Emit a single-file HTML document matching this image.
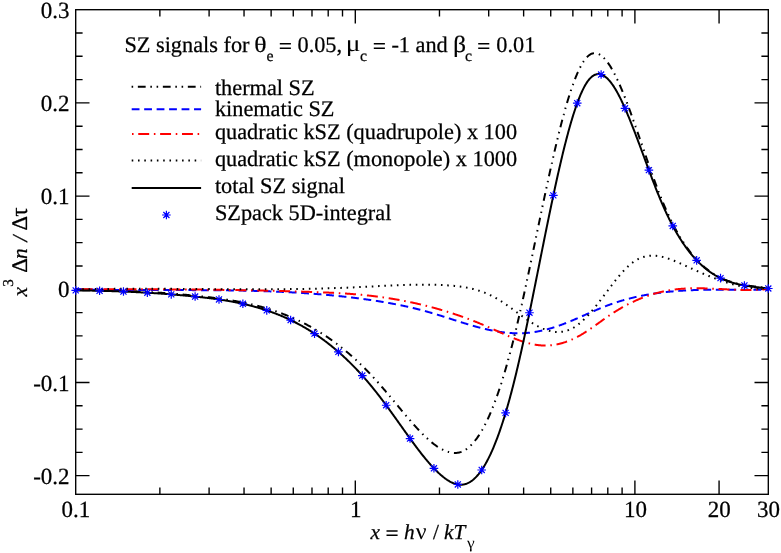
<!DOCTYPE html>
<html><head><meta charset="utf-8"><title>SZ signals</title>
<style>html,body{margin:0;padding:0;background:#fff;}svg{display:block;will-change:transform;}text{font-family:"Liberation Serif",serif;text-rendering:geometricPrecision;}</style></head>
<body>
<svg width="781" height="553" viewBox="0 0 781 553">
<rect width="781" height="553" fill="#fff"/>
<path d="M159.87 494.30 v-6.90 M159.87 9.70 v6.90 M209.10 494.30 v-6.90 M209.10 9.70 v6.90 M244.04 494.30 v-6.90 M244.04 9.70 v6.90 M271.13 494.30 v-6.90 M271.13 9.70 v6.90 M293.27 494.30 v-6.90 M293.27 9.70 v6.90 M311.99 494.30 v-6.90 M311.99 9.70 v6.90 M328.20 494.30 v-6.90 M328.20 9.70 v6.90 M342.51 494.30 v-6.90 M342.51 9.70 v6.90 M355.30 494.30 v-13.80 M355.30 9.70 v13.80 M439.47 494.30 v-6.90 M439.47 9.70 v6.90 M488.70 494.30 v-6.90 M488.70 9.70 v6.90 M523.63 494.30 v-6.90 M523.63 9.70 v6.90 M550.73 494.30 v-6.90 M550.73 9.70 v6.90 M572.87 494.30 v-6.90 M572.87 9.70 v6.90 M591.59 494.30 v-6.90 M591.59 9.70 v6.90 M607.80 494.30 v-6.90 M607.80 9.70 v6.90 M622.10 494.30 v-6.90 M622.10 9.70 v6.90 M634.90 494.30 v-13.80 M634.90 9.70 v13.80 M719.07 494.30 v-13.80 M719.07 9.70 v13.80 M75.70 475.66 h13.80 M768.30 475.66 h-13.80 M75.70 452.36 h6.90 M768.30 452.36 h-6.90 M75.70 429.07 h6.90 M768.30 429.07 h-6.90 M75.70 405.77 h6.90 M768.30 405.77 h-6.90 M75.70 382.47 h13.80 M768.30 382.47 h-13.80 M75.70 359.17 h6.90 M768.30 359.17 h-6.90 M75.70 335.87 h6.90 M768.30 335.87 h-6.90 M75.70 312.57 h6.90 M768.30 312.57 h-6.90 M75.70 289.28 h13.80 M768.30 289.28 h-13.80 M75.70 265.98 h6.90 M768.30 265.98 h-6.90 M75.70 242.68 h6.90 M768.30 242.68 h-6.90 M75.70 219.38 h6.90 M768.30 219.38 h-6.90 M75.70 196.08 h13.80 M768.30 196.08 h-13.80 M75.70 172.79 h6.90 M768.30 172.79 h-6.90 M75.70 149.49 h6.90 M768.30 149.49 h-6.90 M75.70 126.19 h6.90 M768.30 126.19 h-6.90 M75.70 102.89 h13.80 M768.30 102.89 h-13.80 M75.70 79.59 h6.90 M768.30 79.59 h-6.90 M75.70 56.30 h6.90 M768.30 56.30 h-6.90 M75.70 33.00 h6.90 M768.30 33.00 h-6.90" stroke="#000" stroke-width="1.37" fill="none"/>
<rect x="75.70" y="9.70" width="692.60" height="484.60" fill="none" stroke="#000" stroke-width="1.37"/>
<clipPath id="c"><rect x="75.70" y="9.70" width="692.60" height="484.60"/></clipPath>
<g clip-path="url(#c)" fill="none" stroke-width="2.00">
<path d="M76.00 290.43 L76.10 290.43 L76.20 290.43 L76.30 290.42 L76.40 290.42 L76.50 290.42 L76.60 290.42 L76.70 290.42 L76.80 290.42 L76.90 290.41 L77.00 290.41 L77.10 290.41 L77.20 290.41 L77.30 290.41 L77.40 290.41 L77.50 290.40 M82.30 290.34 L82.90 290.33 L83.50 290.33 L84.10 290.32 L84.70 290.32 L85.30 290.31 L85.90 290.31 L86.50 290.31 L87.10 290.30 L87.70 290.30 L88.30 290.30 L88.90 290.30 L89.50 290.29 L90.00 290.29 M94.80 290.30 L94.90 290.30 L95.00 290.30 L95.10 290.30 L95.20 290.30 L95.30 290.30 L95.40 290.30 L95.50 290.30 L95.60 290.30 L95.70 290.30 L95.80 290.30 L95.90 290.30 L96.00 290.30 L96.10 290.30 L96.20 290.30 L96.30 290.30 M101.10 290.34 L101.20 290.34 L101.30 290.34 L101.40 290.34 L101.50 290.34 L101.60 290.34 L101.70 290.34 L101.80 290.35 L101.90 290.35 L102.00 290.35 L102.10 290.35 L102.20 290.35 L102.30 290.35 L102.40 290.35 L102.50 290.35 L102.60 290.35 M107.40 290.42 L108.00 290.43 L108.60 290.44 L109.20 290.45 L109.80 290.47 L110.40 290.48 L111.00 290.49 L111.60 290.50 L112.20 290.52 L112.80 290.53 L113.40 290.54 L114.00 290.56 L114.60 290.57 L115.20 290.59 M120.00 290.72 L120.10 290.72 L120.20 290.72 L120.30 290.73 L120.40 290.73 L120.50 290.73 L120.60 290.74 L120.70 290.74 L120.80 290.74 L120.90 290.74 L121.00 290.75 L121.10 290.75 L121.20 290.75 L121.30 290.76 L121.40 290.76 L121.50 290.76 M126.29 290.93 L126.39 290.93 L126.49 290.93 L126.59 290.94 L126.69 290.94 L126.79 290.94 L126.89 290.95 L126.99 290.95 L127.09 290.96 L127.19 290.96 L127.29 290.96 L127.39 290.97 L127.49 290.97 L127.59 290.97 L127.69 290.98 M132.49 291.17 L133.09 291.20 L133.69 291.22 L134.29 291.25 L134.89 291.28 L135.49 291.30 L136.08 291.33 L136.68 291.36 L137.28 291.39 L137.88 291.42 L138.48 291.44 L139.08 291.47 L139.68 291.50 L140.28 291.53 M145.07 291.79 L145.17 291.79 L145.27 291.80 L145.37 291.80 L145.47 291.81 L145.57 291.81 L145.67 291.82 L145.77 291.82 L145.87 291.83 L145.97 291.84 L146.07 291.84 L146.17 291.85 L146.27 291.85 L146.37 291.86 L146.47 291.86 L146.57 291.87 M151.36 292.15 L151.46 292.16 L151.56 292.16 L151.66 292.17 L151.76 292.18 L151.86 292.18 L151.96 292.19 L152.06 292.19 L152.16 292.20 L152.26 292.21 L152.36 292.21 L152.46 292.22 L152.56 292.23 L152.66 292.23 L152.76 292.24 L152.86 292.24 M157.65 292.55 L158.25 292.59 L158.85 292.64 L159.45 292.68 L160.04 292.72 L160.64 292.76 L161.24 292.80 L161.84 292.84 L162.44 292.89 L163.04 292.93 L163.64 292.97 L164.23 293.02 L164.83 293.06 L165.33 293.10 M170.22 293.47 L170.32 293.48 L170.42 293.49 L170.52 293.49 L170.62 293.50 L170.72 293.51 L170.81 293.52 L170.91 293.53 L171.01 293.53 L171.11 293.54 L171.21 293.55 L171.31 293.56 L171.41 293.57 L171.51 293.57 L171.61 293.58 M176.40 293.98 L176.50 293.98 L176.60 293.99 L176.70 294.00 L176.79 294.01 L176.89 294.02 L176.99 294.03 L177.09 294.03 L177.19 294.04 L177.29 294.05 L177.39 294.06 L177.49 294.07 L177.59 294.08 L177.69 294.09 L177.79 294.09 L177.89 294.10 M182.67 294.52 L183.27 294.58 L183.87 294.63 L184.47 294.69 L185.06 294.74 L185.66 294.80 L186.26 294.85 L186.86 294.91 L187.45 294.96 L188.05 295.02 L188.65 295.08 L189.24 295.13 L189.84 295.19 L190.44 295.25 M195.22 295.72 L195.32 295.73 L195.41 295.74 L195.51 295.75 L195.61 295.76 L195.71 295.77 L195.81 295.78 L195.91 295.79 L196.01 295.80 L196.11 295.81 L196.21 295.82 L196.31 295.83 L196.41 295.84 L196.51 295.85 L196.61 295.86 L196.71 295.87 M201.48 296.37 L201.58 296.38 L201.68 296.39 L201.78 296.40 L201.88 296.42 L201.98 296.43 L202.08 296.44 L202.18 296.45 L202.28 296.46 L202.38 296.47 L202.48 296.48 L202.58 296.49 L202.68 296.50 L202.77 296.51 L202.87 296.52 L202.97 296.53 M207.74 297.07 L208.34 297.14 L208.94 297.21 L209.53 297.28 L210.13 297.35 L210.72 297.42 L211.32 297.50 L211.91 297.57 L212.51 297.64 L213.11 297.72 L213.70 297.79 L214.30 297.87 L214.89 297.94 L215.39 298.01 M220.14 298.64 L220.24 298.66 L220.34 298.67 L220.44 298.68 L220.54 298.70 L220.64 298.71 L220.74 298.73 L220.84 298.74 L220.94 298.75 L221.04 298.77 L221.13 298.78 L221.23 298.80 L221.33 298.81 L221.43 298.82 L221.53 298.84 L221.63 298.85 M226.38 299.55 L226.48 299.57 L226.58 299.58 L226.67 299.60 L226.77 299.62 L226.87 299.63 L226.97 299.65 L227.07 299.66 L227.17 299.68 L227.27 299.69 L227.37 299.71 L227.47 299.72 L227.56 299.74 L227.66 299.75 L227.76 299.77 L227.86 299.79 M232.60 300.56 L233.19 300.66 L233.78 300.77 L234.37 300.87 L234.96 300.97 L235.55 301.08 L236.14 301.18 L236.73 301.29 L237.32 301.40 L237.91 301.51 L238.50 301.62 L239.09 301.73 L239.68 301.84 L240.27 301.96 M244.98 302.91 L245.07 302.93 L245.17 302.95 L245.27 302.97 L245.37 302.99 L245.47 303.01 L245.56 303.03 L245.66 303.05 L245.76 303.07 L245.86 303.09 L245.95 303.12 L246.05 303.14 L246.15 303.16 L246.25 303.18 L246.35 303.20 L246.44 303.22 M251.13 304.27 L251.23 304.29 L251.32 304.31 L251.42 304.34 L251.52 304.36 L251.61 304.38 L251.71 304.40 L251.81 304.43 L251.91 304.45 L252.00 304.47 L252.10 304.50 L252.20 304.52 L252.30 304.54 L252.39 304.57 L252.49 304.59 M257.25 305.77 L257.83 305.92 L258.41 306.07 L258.99 306.22 L259.57 306.37 L260.15 306.53 L260.73 306.69 L261.31 306.84 L261.88 307.00 L262.46 307.16 L263.04 307.33 L263.62 307.49 L264.19 307.66 L264.68 307.79 M269.27 309.17 L269.37 309.20 L269.46 309.23 L269.56 309.26 L269.65 309.29 L269.75 309.32 L269.85 309.35 L269.94 309.38 L270.04 309.41 L270.13 309.44 L270.23 309.47 L270.32 309.50 L270.42 309.53 L270.51 309.56 L270.61 309.59 L270.70 309.62 M275.26 311.13 L275.36 311.16 L275.45 311.19 L275.55 311.22 L275.64 311.26 L275.74 311.29 L275.83 311.32 L275.92 311.35 L276.02 311.39 L276.11 311.42 L276.21 311.45 L276.30 311.48 L276.40 311.52 L276.49 311.55 L276.59 311.58 L276.68 311.62 M281.20 313.24 L281.76 313.45 L282.32 313.66 L282.88 313.88 L283.44 314.09 L284.00 314.31 L284.56 314.53 L285.12 314.75 L285.68 314.97 L286.23 315.19 L286.79 315.41 L287.35 315.64 L287.90 315.86 L288.46 316.09 M292.87 317.98 L292.96 318.02 L293.06 318.06 L293.15 318.10 L293.24 318.14 L293.33 318.18 L293.42 318.22 L293.51 318.26 L293.60 318.30 L293.70 318.34 L293.79 318.38 L293.88 318.42 L293.97 318.46 L294.06 318.50 L294.15 318.54 M298.60 320.60 L298.69 320.64 L298.78 320.68 L298.87 320.72 L298.96 320.77 L299.05 320.81 L299.14 320.85 L299.23 320.90 L299.32 320.94 L299.41 320.98 L299.50 321.03 L299.59 321.07 L299.68 321.11 L299.77 321.16 L299.86 321.20 M304.16 323.34 L304.70 323.61 L305.23 323.89 L305.76 324.17 L306.29 324.44 L306.82 324.72 L307.35 325.01 L307.88 325.29 L308.41 325.57 L308.94 325.86 L309.46 326.15 L309.99 326.44 L310.51 326.73 L311.04 327.02 M315.20 329.41 L315.29 329.46 L315.37 329.51 L315.46 329.56 L315.55 329.61 L315.63 329.66 L315.72 329.71 L315.81 329.76 L315.89 329.81 L315.98 329.86 L316.06 329.92 L316.15 329.97 L316.24 330.02 L316.32 330.07 L316.41 330.12 L316.49 330.17 M320.58 332.68 L320.67 332.73 L320.75 332.79 L320.84 332.84 L320.92 332.89 L321.01 332.95 L321.09 333.00 L321.18 333.05 L321.26 333.11 L321.35 333.16 L321.43 333.21 L321.51 333.27 L321.60 333.32 L321.68 333.37 L321.77 333.43 L321.85 333.48 M325.87 336.11 L326.37 336.44 L326.87 336.78 L327.36 337.11 L327.86 337.45 L328.35 337.79 L328.85 338.13 L329.34 338.47 L329.83 338.82 L330.32 339.16 L330.82 339.51 L331.30 339.85 L331.79 340.20 L332.20 340.49 M336.15 343.39 L336.23 343.45 L336.31 343.51 L336.39 343.57 L336.47 343.63 L336.55 343.69 L336.63 343.75 L336.71 343.81 L336.79 343.87 L336.87 343.93 L336.95 343.99 L337.03 344.06 L337.11 344.12 L337.19 344.18 L337.27 344.24 M341.06 347.18 L341.14 347.24 L341.22 347.30 L341.30 347.36 L341.37 347.43 L341.45 347.49 L341.53 347.55 L341.61 347.61 L341.69 347.67 L341.77 347.74 L341.84 347.80 L341.92 347.86 L342.00 347.92 L342.08 347.99 L342.16 348.05 L342.24 348.11 M345.95 351.15 L346.41 351.53 L346.87 351.92 L347.33 352.30 L347.79 352.69 L348.25 353.08 L348.70 353.47 L349.16 353.86 L349.61 354.25 L350.07 354.64 L350.52 355.04 L350.97 355.43 L351.42 355.83 L351.87 356.23 M355.44 359.44 L355.51 359.50 L355.59 359.57 L355.66 359.64 L355.74 359.71 L355.81 359.77 L355.88 359.84 L355.96 359.91 L356.03 359.98 L356.10 360.04 L356.18 360.11 L356.25 360.18 L356.32 360.25 L356.40 360.32 L356.47 360.38 L356.54 360.45 M360.04 363.74 L360.11 363.81 L360.18 363.88 L360.26 363.95 L360.33 364.02 L360.40 364.09 L360.47 364.16 L360.54 364.23 L360.62 364.30 L360.69 364.37 L360.76 364.44 L360.83 364.51 L360.90 364.57 L360.98 364.64 L361.05 364.71 M364.54 368.15 L364.97 368.57 L365.39 369.00 L365.81 369.43 L366.23 369.85 L366.65 370.28 L367.07 370.71 L367.49 371.14 L367.91 371.57 L368.33 372.00 L368.74 372.43 L369.16 372.87 L369.57 373.30 L369.92 373.66 M373.20 377.16 L373.27 377.24 L373.34 377.31 L373.41 377.38 L373.47 377.46 L373.54 377.53 L373.61 377.60 L373.68 377.68 L373.74 377.75 L373.81 377.82 L373.88 377.90 L373.95 377.97 L374.01 378.05 L374.08 378.12 L374.15 378.19 L374.22 378.27 M377.43 381.83 L377.50 381.90 L377.57 381.98 L377.63 382.05 L377.70 382.13 L377.77 382.20 L377.83 382.28 L377.90 382.35 L377.97 382.43 L378.03 382.50 L378.10 382.58 L378.17 382.65 L378.23 382.73 L378.30 382.80 L378.36 382.88 L378.43 382.95 M381.59 386.56 L381.98 387.02 L382.38 387.47 L382.77 387.92 L383.16 388.38 L383.55 388.83 L383.94 389.29 L384.33 389.75 L384.72 390.20 L385.11 390.66 L385.50 391.12 L385.89 391.57 L386.28 392.03 L386.47 392.26 M389.50 395.86 L389.56 395.93 L389.63 396.01 L389.69 396.09 L389.75 396.16 L389.82 396.24 L389.88 396.32 L389.95 396.39 L390.01 396.47 L390.07 396.55 L390.14 396.62 L390.20 396.70 L390.27 396.78 L390.33 396.85 L390.40 396.93 M393.47 400.62 L393.53 400.69 L393.60 400.77 L393.66 400.85 L393.72 400.92 L393.79 401.00 L393.85 401.08 L393.92 401.15 L393.98 401.23 L394.04 401.31 L394.11 401.38 L394.17 401.46 L394.24 401.54 L394.30 401.62 L394.36 401.69 L394.43 401.77 M397.49 405.46 L397.88 405.92 L398.26 406.39 L398.64 406.85 L399.03 407.31 L399.41 407.77 L399.80 408.23 L400.18 408.69 L400.56 409.15 L400.95 409.61 L401.33 410.08 L401.72 410.54 L402.10 411.00 L402.42 411.38 M405.51 415.06 L405.57 415.13 L405.64 415.21 L405.70 415.29 L405.77 415.36 L405.83 415.44 L405.89 415.52 L405.96 415.59 L406.02 415.67 L406.09 415.74 L406.15 415.82 L406.22 415.90 L406.28 415.97 L406.35 416.05 L406.41 416.13 L406.48 416.20 M409.60 419.85 L409.66 419.92 L409.73 420.00 L409.79 420.07 L409.86 420.15 L409.93 420.23 L409.99 420.30 L410.06 420.38 L410.12 420.45 L410.19 420.53 L410.25 420.60 L410.32 420.68 L410.38 420.75 L410.45 420.83 L410.52 420.90 L410.58 420.98 M413.76 424.58 L414.16 425.02 L414.56 425.47 L414.97 425.91 L415.37 426.36 L415.77 426.81 L416.17 427.25 L416.57 427.70 L416.98 428.14 L417.38 428.58 L417.79 429.02 L418.20 429.46 L418.61 429.90 L419.02 430.34 M422.35 433.79 L422.42 433.87 L422.49 433.94 L422.56 434.01 L422.63 434.08 L422.70 434.15 L422.77 434.22 L422.84 434.29 L422.91 434.36 L422.98 434.43 L423.06 434.50 L423.13 434.57 L423.20 434.64 L423.27 434.71 L423.34 434.79 M426.80 438.11 L426.88 438.17 L426.95 438.24 L427.03 438.31 L427.10 438.38 L427.17 438.44 L427.25 438.51 L427.32 438.58 L427.39 438.65 L427.47 438.71 L427.54 438.78 L427.62 438.85 L427.69 438.92 L427.76 438.98 L427.84 439.05 L427.91 439.12 M431.55 442.25 L432.02 442.62 L432.49 443.00 L432.96 443.37 L433.43 443.74 L433.91 444.10 L434.39 444.46 L434.87 444.82 L435.35 445.18 L435.84 445.53 L436.33 445.87 L436.83 446.21 L437.32 446.55 L437.83 446.87 M441.97 449.29 L442.06 449.34 L442.15 449.38 L442.24 449.43 L442.33 449.47 L442.42 449.52 L442.51 449.56 L442.60 449.61 L442.68 449.65 L442.77 449.70 L442.86 449.74 L442.95 449.79 L443.04 449.83 L443.13 449.88 L443.22 449.92 L443.31 449.96 M447.76 451.75 L447.86 451.78 L447.95 451.81 L448.05 451.84 L448.14 451.87 L448.24 451.90 L448.34 451.93 L448.43 451.96 L448.53 451.99 L448.62 452.01 L448.72 452.04 L448.82 452.07 L448.91 452.10 L449.01 452.12 L449.11 452.15 M453.93 452.92 L454.53 452.95 L455.13 452.95 L455.73 452.93 L456.33 452.90 L456.93 452.85 L457.53 452.78 L458.12 452.69 L458.71 452.59 L459.30 452.46 L459.88 452.32 L460.46 452.16 L461.03 451.98 L461.50 451.82 M465.76 449.62 L465.84 449.56 L465.93 449.51 L466.01 449.45 L466.09 449.39 L466.17 449.34 L466.26 449.28 L466.34 449.23 L466.42 449.17 L466.50 449.11 L466.58 449.05 L466.67 448.99 L466.75 448.94 L466.83 448.88 L466.91 448.82 L466.99 448.76 M470.63 445.64 L470.70 445.57 L470.77 445.50 L470.84 445.43 L470.91 445.35 L470.98 445.28 L471.05 445.21 L471.13 445.14 L471.20 445.07 L471.27 445.00 L471.34 444.93 L471.40 444.86 L471.47 444.78 L471.54 444.71 L471.61 444.64 L471.68 444.57 M474.82 440.94 L475.19 440.46 L475.55 439.99 L475.92 439.51 L476.28 439.03 L476.63 438.55 L476.99 438.06 L477.34 437.58 L477.68 437.09 L478.02 436.59 L478.36 436.10 L478.70 435.60 L479.03 435.10 L479.30 434.68 M481.81 430.59 L481.86 430.50 L481.91 430.41 L481.96 430.33 L482.01 430.24 L482.06 430.15 L482.11 430.07 L482.16 429.98 L482.21 429.89 L482.26 429.81 L482.31 429.72 L482.36 429.63 L482.41 429.55 L482.45 429.46 L482.50 429.37 L482.55 429.28 M484.83 425.06 L484.88 424.97 L484.92 424.88 L484.97 424.79 L485.01 424.70 L485.06 424.61 L485.11 424.53 L485.15 424.44 L485.20 424.35 L485.24 424.26 L485.29 424.17 L485.33 424.08 L485.38 423.99 L485.42 423.90 L485.47 423.81 L485.51 423.72 M487.61 419.40 L487.86 418.86 L488.11 418.32 L488.36 417.77 L488.61 417.22 L488.86 416.68 L489.10 416.13 L489.34 415.58 L489.59 415.03 L489.83 414.48 L490.07 413.93 L490.30 413.38 L490.54 412.83 L490.73 412.37 M492.59 407.83 L492.63 407.74 L492.67 407.65 L492.70 407.56 L492.74 407.46 L492.78 407.37 L492.82 407.28 L492.85 407.18 L492.89 407.09 L492.93 407.00 L492.96 406.91 L493.00 406.81 L493.04 406.72 L493.07 406.63 L493.11 406.53 M494.83 402.05 L494.86 401.96 L494.90 401.86 L494.93 401.77 L494.97 401.68 L495.01 401.58 L495.04 401.49 L495.07 401.40 L495.11 401.30 L495.14 401.21 L495.18 401.11 L495.21 401.02 L495.25 400.93 L495.28 400.83 L495.32 400.74 L495.35 400.65 M496.98 396.13 L497.18 395.57 L497.38 395.00 L497.58 394.43 L497.78 393.87 L497.97 393.30 L498.17 392.73 L498.36 392.16 L498.56 391.60 L498.75 391.03 L498.94 390.46 L499.13 389.89 L499.32 389.32 L499.51 388.75 M501.00 384.19 L501.03 384.09 L501.06 384.00 L501.09 383.90 L501.12 383.81 L501.15 383.71 L501.18 383.62 L501.21 383.52 L501.25 383.43 L501.28 383.33 L501.31 383.24 L501.34 383.14 L501.37 383.05 L501.40 382.95 L501.43 382.86 L501.46 382.76 M502.89 378.18 L502.92 378.08 L502.95 377.99 L502.98 377.89 L503.01 377.80 L503.04 377.70 L503.06 377.60 L503.09 377.51 L503.12 377.41 L503.15 377.32 L503.18 377.22 L503.21 377.13 L503.24 377.03 L503.27 376.94 L503.30 376.84 M504.68 372.24 L504.85 371.67 L505.02 371.09 L505.19 370.52 L505.35 369.94 L505.52 369.36 L505.69 368.79 L505.86 368.21 L506.02 367.63 L506.19 367.06 L506.35 366.48 L506.52 365.90 L506.68 365.33 L506.84 364.75 M508.14 360.13 L508.16 360.03 L508.19 359.93 L508.22 359.84 L508.24 359.74 L508.27 359.64 L508.30 359.55 L508.32 359.45 L508.35 359.35 L508.37 359.26 L508.40 359.16 L508.43 359.07 L508.45 358.97 L508.48 358.87 L508.51 358.78 L508.53 358.68 M509.79 354.05 L509.81 353.95 L509.84 353.85 L509.86 353.76 L509.89 353.66 L509.92 353.56 L509.94 353.47 L509.97 353.37 L509.99 353.27 L510.02 353.18 L510.04 353.08 L510.07 352.98 L510.09 352.89 L510.12 352.79 L510.15 352.69 L510.17 352.60 M511.39 347.95 L511.54 347.37 L511.69 346.79 L511.84 346.21 L511.99 345.63 L512.14 345.05 L512.29 344.47 L512.44 343.89 L512.58 343.30 L512.73 342.72 L512.88 342.14 L513.02 341.56 L513.17 340.98 L513.29 340.49 M514.45 335.83 L514.47 335.74 L514.50 335.64 L514.52 335.54 L514.55 335.44 L514.57 335.35 L514.59 335.25 L514.62 335.15 L514.64 335.06 L514.66 334.96 L514.69 334.86 L514.71 334.76 L514.74 334.67 L514.76 334.57 L514.78 334.47 L514.81 334.38 M515.94 329.71 L515.96 329.61 L515.98 329.52 L516.01 329.42 L516.03 329.32 L516.05 329.22 L516.08 329.13 L516.10 329.03 L516.12 328.93 L516.15 328.84 L516.17 328.74 L516.19 328.64 L516.22 328.54 L516.24 328.45 L516.26 328.35 L516.29 328.25 M517.39 323.58 L517.53 323.00 L517.67 322.41 L517.80 321.83 L517.94 321.24 L518.07 320.66 L518.21 320.08 L518.35 319.49 L518.48 318.91 L518.62 318.32 L518.75 317.74 L518.89 317.15 L519.02 316.57 L519.13 316.08 M520.22 311.30 L520.25 311.21 L520.27 311.11 L520.29 311.01 L520.31 310.91 L520.33 310.82 L520.36 310.72 L520.38 310.62 L520.40 310.52 L520.42 310.43 L520.44 310.33 L520.47 310.23 L520.49 310.13 L520.51 310.03 L520.53 309.94 M521.58 305.25 L521.60 305.16 L521.63 305.06 L521.65 304.96 L521.67 304.86 L521.69 304.77 L521.71 304.67 L521.74 304.57 L521.76 304.47 L521.78 304.38 L521.80 304.28 L521.82 304.18 L521.84 304.08 L521.87 303.98 L521.89 303.89 L521.91 303.79 M522.95 299.10 L523.08 298.52 L523.20 297.93 L523.33 297.35 L523.46 296.76 L523.59 296.17 L523.72 295.59 L523.85 295.00 L523.98 294.41 L524.10 293.83 L524.23 293.24 L524.36 292.66 L524.49 292.07 L524.61 291.48 M525.63 286.79 L525.65 286.69 L525.67 286.60 L525.69 286.50 L525.71 286.40 L525.73 286.30 L525.76 286.20 L525.78 286.11 L525.80 286.01 L525.82 285.91 L525.84 285.81 L525.86 285.72 L525.88 285.62 L525.90 285.52 L525.92 285.42 L525.94 285.33 M526.95 280.63 L526.97 280.53 L526.99 280.44 L527.01 280.34 L527.03 280.24 L527.06 280.14 L527.08 280.04 L527.10 279.95 L527.12 279.85 L527.14 279.75 L527.16 279.65 L527.18 279.56 L527.20 279.46 L527.22 279.36 L527.24 279.26 M528.24 274.57 L528.37 273.98 L528.49 273.39 L528.62 272.81 L528.74 272.22 L528.86 271.63 L528.99 271.05 L529.11 270.46 L529.24 269.87 L529.36 269.28 L529.48 268.70 L529.61 268.11 L529.73 267.52 L529.86 266.94 M530.84 262.24 L530.86 262.14 L530.88 262.04 L530.90 261.94 L530.92 261.85 L530.95 261.75 L530.97 261.65 L530.99 261.55 L531.01 261.46 L531.03 261.36 L531.05 261.26 L531.07 261.16 L531.09 261.06 L531.11 260.97 L531.13 260.87 L531.15 260.77 M532.13 256.07 L532.15 255.97 L532.18 255.88 L532.20 255.78 L532.22 255.68 L532.24 255.58 L532.26 255.48 L532.28 255.39 L532.30 255.29 L532.32 255.19 L532.34 255.09 L532.36 255.00 L532.38 254.90 L532.40 254.80 L532.42 254.70 L532.44 254.60 M533.42 249.90 L533.54 249.32 L533.67 248.73 L533.79 248.14 L533.91 247.56 L534.03 246.97 L534.16 246.38 L534.28 245.79 L534.40 245.21 L534.52 244.62 L534.64 244.03 L534.77 243.44 L534.89 242.86 L534.99 242.37 M535.97 237.67 L535.99 237.57 L536.01 237.47 L536.03 237.37 L536.05 237.27 L536.07 237.18 L536.09 237.08 L536.11 236.98 L536.13 236.88 L536.15 236.79 L536.17 236.69 L536.19 236.59 L536.21 236.49 L536.23 236.39 L536.25 236.30 L536.27 236.20 M537.25 231.50 L537.27 231.40 L537.29 231.30 L537.31 231.20 L537.33 231.11 L537.35 231.01 L537.37 230.91 L537.39 230.81 L537.41 230.71 L537.43 230.62 L537.45 230.52 L537.47 230.42 L537.49 230.32 L537.51 230.23 L537.53 230.13 L537.56 230.03 M538.53 225.33 L538.66 224.74 L538.78 224.16 L538.90 223.57 L539.02 222.98 L539.14 222.39 L539.27 221.81 L539.39 221.22 L539.51 220.63 L539.63 220.04 L539.76 219.46 L539.88 218.87 L540.00 218.28 L540.10 217.79 M541.11 213.00 L541.13 212.90 L541.15 212.80 L541.17 212.70 L541.19 212.60 L541.21 212.51 L541.23 212.41 L541.25 212.31 L541.27 212.21 L541.29 212.11 L541.31 212.02 L541.33 211.92 L541.35 211.82 L541.37 211.72 L541.39 211.63 M542.38 206.93 L542.40 206.83 L542.42 206.73 L542.44 206.63 L542.46 206.54 L542.48 206.44 L542.50 206.34 L542.52 206.24 L542.55 206.14 L542.57 206.05 L542.59 205.95 L542.61 205.85 L542.63 205.75 L542.65 205.66 L542.67 205.56 L542.69 205.46 M543.68 200.76 L543.80 200.18 L543.93 199.59 L544.05 199.00 L544.18 198.42 L544.30 197.83 L544.43 197.24 L544.55 196.65 L544.68 196.07 L544.80 195.48 L544.93 194.89 L545.05 194.31 L545.18 193.72 L545.30 193.13 M546.31 188.44 L546.33 188.34 L546.35 188.24 L546.37 188.15 L546.39 188.05 L546.41 187.95 L546.43 187.85 L546.45 187.75 L546.47 187.66 L546.49 187.56 L546.52 187.46 L546.54 187.36 L546.56 187.27 L546.58 187.17 L546.60 187.07 M547.63 182.28 L547.65 182.18 L547.68 182.09 L547.70 181.99 L547.72 181.89 L547.74 181.79 L547.76 181.69 L547.78 181.60 L547.80 181.50 L547.82 181.40 L547.85 181.30 L547.87 181.21 L547.89 181.11 L547.91 181.01 L547.93 180.91 M548.95 176.22 L549.08 175.64 L549.21 175.05 L549.34 174.46 L549.47 173.88 L549.60 173.29 L549.72 172.71 L549.85 172.12 L549.98 171.53 L550.11 170.95 L550.24 170.36 L550.37 169.78 L550.50 169.19 L550.63 168.61 M551.68 163.92 L551.70 163.82 L551.72 163.73 L551.74 163.63 L551.77 163.53 L551.79 163.43 L551.81 163.34 L551.83 163.24 L551.85 163.14 L551.88 163.04 L551.90 162.94 L551.92 162.85 L551.94 162.75 L551.96 162.65 L551.99 162.55 L552.01 162.46 M553.07 157.78 L553.09 157.68 L553.11 157.58 L553.14 157.48 L553.16 157.39 L553.18 157.29 L553.20 157.19 L553.23 157.09 L553.25 157.00 L553.27 156.90 L553.29 156.80 L553.31 156.70 L553.34 156.61 L553.36 156.51 L553.38 156.41 L553.40 156.31 M554.48 151.64 L554.62 151.05 L554.75 150.47 L554.89 149.88 L555.03 149.30 L555.16 148.71 L555.30 148.13 L555.44 147.55 L555.57 146.96 L555.71 146.38 L555.85 145.79 L555.99 145.21 L556.13 144.63 L556.24 144.14 M557.36 139.47 L557.38 139.37 L557.41 139.28 L557.43 139.18 L557.45 139.08 L557.48 138.99 L557.50 138.89 L557.52 138.79 L557.55 138.69 L557.57 138.60 L557.60 138.50 L557.62 138.40 L557.64 138.31 L557.67 138.21 L557.69 138.11 L557.71 138.01 M558.86 133.35 L558.88 133.25 L558.90 133.16 L558.93 133.06 L558.95 132.96 L558.98 132.87 L559.00 132.77 L559.02 132.67 L559.05 132.58 L559.07 132.48 L559.10 132.38 L559.12 132.28 L559.15 132.19 L559.17 132.09 L559.19 131.99 L559.22 131.90 M560.39 127.24 L560.54 126.66 L560.69 126.08 L560.83 125.50 L560.98 124.92 L561.13 124.33 L561.28 123.75 L561.43 123.17 L561.59 122.59 L561.74 122.01 L561.89 121.43 L562.04 120.85 L562.19 120.27 L562.32 119.79 M563.56 115.15 L563.59 115.05 L563.61 114.96 L563.64 114.86 L563.67 114.76 L563.69 114.67 L563.72 114.57 L563.75 114.47 L563.77 114.38 L563.80 114.28 L563.82 114.18 L563.85 114.09 L563.88 113.99 L563.90 113.90 L563.93 113.80 L563.96 113.70 M565.24 109.08 L565.27 108.98 L565.30 108.89 L565.32 108.79 L565.35 108.69 L565.38 108.60 L565.40 108.50 L565.43 108.40 L565.46 108.31 L565.49 108.21 L565.51 108.12 L565.54 108.02 L565.57 107.92 L565.60 107.83 L565.62 107.73 L565.65 107.63 M566.99 103.02 L567.16 102.45 L567.33 101.87 L567.50 101.30 L567.67 100.72 L567.85 100.15 L568.02 99.58 L568.20 99.00 L568.37 98.43 L568.55 97.86 L568.73 97.28 L568.90 96.71 L569.08 96.14 L569.26 95.56 M570.74 91.00 L570.77 90.90 L570.80 90.81 L570.83 90.71 L570.87 90.62 L570.90 90.52 L570.93 90.43 L570.96 90.33 L570.99 90.24 L571.02 90.14 L571.06 90.05 L571.09 89.95 L571.12 89.86 L571.15 89.76 L571.18 89.67 M572.78 85.04 L572.82 84.94 L572.85 84.85 L572.88 84.75 L572.92 84.66 L572.95 84.57 L572.99 84.47 L573.02 84.38 L573.05 84.28 L573.09 84.19 L573.12 84.10 L573.15 84.00 L573.19 83.91 L573.22 83.81 L573.26 83.72 M574.94 79.23 L575.16 78.67 L575.38 78.11 L575.60 77.55 L575.83 76.99 L576.06 76.44 L576.28 75.88 L576.51 75.33 L576.75 74.78 L576.98 74.23 L577.22 73.67 L577.46 73.12 L577.70 72.57 L577.95 72.03 M580.01 67.69 L580.06 67.61 L580.10 67.52 L580.15 67.43 L580.19 67.34 L580.24 67.25 L580.28 67.16 L580.33 67.07 L580.38 66.98 L580.42 66.89 L580.47 66.81 L580.51 66.72 L580.56 66.63 L580.61 66.54 L580.65 66.45 L580.70 66.36 M583.10 62.21 L583.15 62.12 L583.21 62.04 L583.26 61.95 L583.32 61.87 L583.37 61.79 L583.43 61.70 L583.48 61.62 L583.53 61.54 L583.59 61.45 L583.64 61.37 L583.70 61.28 L583.76 61.20 L583.81 61.12 L583.87 61.04 M586.90 57.19 L587.32 56.76 L587.75 56.35 L588.19 55.94 L588.65 55.56 L589.13 55.19 L589.61 54.84 L590.12 54.52 L590.64 54.22 L591.18 53.95 L591.73 53.72 L592.29 53.52 L592.87 53.36 L593.46 53.23 L593.96 53.17 M598.80 54.09 L598.89 54.14 L598.98 54.18 L599.07 54.23 L599.16 54.27 L599.25 54.32 L599.34 54.36 L599.43 54.41 L599.51 54.46 L599.60 54.51 L599.69 54.56 L599.77 54.61 L599.86 54.66 L599.95 54.71 L600.03 54.76 L600.12 54.82 M603.82 57.85 L603.89 57.92 L603.96 57.99 L604.03 58.06 L604.10 58.13 L604.17 58.21 L604.24 58.28 L604.31 58.35 L604.38 58.42 L604.45 58.50 L604.52 58.57 L604.58 58.64 L604.65 58.72 L604.72 58.79 L604.79 58.86 M607.79 62.61 L608.14 63.09 L608.48 63.58 L608.82 64.08 L609.16 64.58 L609.49 65.08 L609.81 65.58 L610.13 66.09 L610.45 66.60 L610.77 67.11 L611.08 67.62 L611.39 68.14 L611.69 68.66 L611.99 69.17 M614.29 73.39 L614.34 73.48 L614.38 73.56 L614.43 73.65 L614.47 73.74 L614.52 73.83 L614.57 73.92 L614.61 74.01 L614.66 74.10 L614.70 74.19 L614.75 74.28 L614.79 74.36 L614.84 74.45 L614.89 74.54 L614.93 74.63 L614.98 74.72 M617.08 79.03 L617.12 79.12 L617.17 79.22 L617.21 79.31 L617.25 79.40 L617.29 79.49 L617.34 79.58 L617.38 79.67 L617.42 79.76 L617.46 79.85 L617.50 79.94 L617.55 80.03 L617.59 80.12 L617.63 80.21 L617.67 80.30 L617.72 80.39 M619.68 84.77 L619.92 85.32 L620.16 85.87 L620.39 86.43 L620.63 86.98 L620.87 87.53 L621.10 88.08 L621.33 88.63 L621.56 89.19 L621.79 89.74 L622.02 90.30 L622.25 90.85 L622.48 91.41 L622.67 91.87 M624.46 96.32 L624.49 96.42 L624.53 96.51 L624.57 96.60 L624.60 96.70 L624.64 96.79 L624.68 96.88 L624.71 96.98 L624.75 97.07 L624.79 97.16 L624.82 97.25 L624.86 97.35 L624.90 97.44 L624.93 97.53 L624.97 97.63 L625.01 97.72 M626.74 102.20 L626.77 102.29 L626.81 102.39 L626.84 102.48 L626.88 102.57 L626.91 102.67 L626.95 102.76 L626.98 102.85 L627.02 102.95 L627.05 103.04 L627.09 103.13 L627.13 103.23 L627.16 103.32 L627.20 103.41 L627.23 103.51 L627.27 103.60 M628.95 108.10 L629.16 108.66 L629.37 109.22 L629.58 109.78 L629.78 110.35 L629.99 110.91 L630.20 111.47 L630.40 112.04 L630.61 112.60 L630.81 113.16 L631.02 113.73 L631.22 114.29 L631.43 114.86 L631.63 115.42 M633.25 119.94 L633.28 120.03 L633.32 120.13 L633.35 120.22 L633.38 120.32 L633.42 120.41 L633.45 120.51 L633.48 120.60 L633.52 120.69 L633.55 120.79 L633.58 120.88 L633.62 120.98 L633.65 121.07 L633.68 121.16 L633.72 121.26 L633.75 121.35 M635.35 125.88 L635.38 125.97 L635.42 126.07 L635.45 126.16 L635.48 126.26 L635.51 126.35 L635.55 126.45 L635.58 126.54 L635.61 126.63 L635.65 126.73 L635.68 126.82 L635.71 126.92 L635.75 127.01 L635.78 127.11 L635.81 127.20 M637.43 131.83 L637.62 132.39 L637.82 132.96 L638.02 133.53 L638.21 134.10 L638.41 134.66 L638.61 135.23 L638.80 135.80 L639.00 136.36 L639.20 136.93 L639.39 137.50 L639.59 138.06 L639.78 138.63 L639.95 139.10 M641.51 143.64 L641.54 143.74 L641.58 143.83 L641.61 143.93 L641.64 144.02 L641.67 144.11 L641.71 144.21 L641.74 144.30 L641.77 144.40 L641.80 144.49 L641.84 144.59 L641.87 144.68 L641.90 144.78 L641.93 144.87 L641.97 144.97 L642.00 145.06 M643.56 149.60 L643.60 149.69 L643.63 149.79 L643.66 149.88 L643.69 149.98 L643.73 150.07 L643.76 150.17 L643.79 150.26 L643.82 150.36 L643.86 150.45 L643.89 150.54 L643.92 150.64 L643.95 150.73 L643.99 150.83 L644.02 150.92 L644.05 151.02 M645.62 155.55 L645.81 156.12 L646.01 156.69 L646.21 157.26 L646.40 157.82 L646.60 158.39 L646.80 158.96 L646.99 159.52 L647.19 160.09 L647.39 160.66 L647.59 161.22 L647.78 161.79 L647.98 162.36 L648.14 162.83 M649.77 167.45 L649.80 167.55 L649.83 167.64 L649.87 167.73 L649.90 167.83 L649.93 167.92 L649.97 168.02 L650.00 168.11 L650.03 168.21 L650.07 168.30 L650.10 168.40 L650.13 168.49 L650.17 168.58 L650.20 168.68 L650.23 168.77 M651.84 173.30 L651.87 173.39 L651.91 173.48 L651.94 173.58 L651.97 173.67 L652.01 173.77 L652.04 173.86 L652.08 173.95 L652.11 174.05 L652.14 174.14 L652.18 174.24 L652.21 174.33 L652.24 174.43 L652.28 174.52 L652.31 174.61 L652.35 174.71 M653.98 179.22 L654.18 179.79 L654.39 180.35 L654.60 180.91 L654.80 181.48 L655.01 182.04 L655.22 182.60 L655.42 183.16 L655.63 183.73 L655.84 184.29 L656.05 184.85 L656.26 185.41 L656.47 185.98 L656.68 186.54 M658.39 191.02 L658.42 191.12 L658.46 191.21 L658.50 191.30 L658.53 191.40 L658.57 191.49 L658.60 191.58 L658.64 191.68 L658.68 191.77 L658.71 191.86 L658.75 191.96 L658.78 192.05 L658.82 192.14 L658.86 192.24 L658.89 192.33 L658.93 192.42 M660.68 196.89 L660.72 196.98 L660.76 197.08 L660.79 197.17 L660.83 197.26 L660.87 197.36 L660.90 197.45 L660.94 197.54 L660.98 197.63 L661.02 197.73 L661.05 197.82 L661.09 197.91 L661.13 198.01 L661.17 198.10 L661.20 198.19 M663.06 202.73 L663.29 203.28 L663.52 203.83 L663.75 204.39 L663.99 204.94 L664.22 205.49 L664.46 206.04 L664.70 206.59 L664.93 207.15 L665.17 207.70 L665.41 208.25 L665.65 208.80 L665.89 209.35 L666.10 209.80 M668.07 214.18 L668.11 214.27 L668.16 214.36 L668.20 214.45 L668.24 214.54 L668.28 214.63 L668.32 214.72 L668.37 214.81 L668.41 214.90 L668.45 214.99 L668.49 215.08 L668.54 215.17 L668.58 215.27 L668.62 215.36 L668.66 215.45 L668.70 215.54 M670.77 219.87 L670.82 219.96 L670.86 220.05 L670.91 220.14 L670.95 220.23 L670.99 220.32 L671.04 220.41 L671.08 220.50 L671.13 220.59 L671.17 220.68 L671.21 220.77 L671.26 220.86 L671.30 220.95 L671.35 221.04 L671.39 221.12 L671.44 221.21 M673.61 225.50 L673.88 226.03 L674.16 226.56 L674.44 227.09 L674.72 227.62 L675.01 228.15 L675.29 228.68 L675.58 229.21 L675.86 229.73 L676.15 230.26 L676.44 230.78 L676.73 231.31 L677.03 231.83 L677.27 232.27 M679.73 236.51 L679.78 236.59 L679.83 236.68 L679.88 236.76 L679.93 236.85 L679.99 236.94 L680.04 237.02 L680.09 237.11 L680.14 237.19 L680.19 237.28 L680.24 237.36 L680.30 237.45 L680.35 237.53 L680.40 237.62 L680.45 237.71 M683.00 241.77 L683.05 241.86 L683.11 241.94 L683.16 242.03 L683.22 242.11 L683.27 242.19 L683.32 242.28 L683.38 242.36 L683.43 242.45 L683.49 242.53 L683.54 242.61 L683.60 242.70 L683.65 242.78 L683.71 242.86 L683.76 242.95 L683.82 243.03 M686.52 247.00 L686.87 247.49 L687.21 247.98 L687.57 248.46 L687.92 248.95 L688.27 249.43 L688.63 249.91 L688.99 250.39 L689.35 250.87 L689.71 251.35 L690.08 251.83 L690.45 252.30 L690.82 252.77 L691.19 253.24 M694.26 256.94 L694.32 257.01 L694.39 257.09 L694.45 257.16 L694.52 257.24 L694.58 257.31 L694.65 257.39 L694.72 257.47 L694.78 257.54 L694.85 257.62 L694.91 257.69 L694.98 257.77 L695.05 257.84 L695.11 257.92 L695.18 257.99 L695.24 258.06 M698.52 261.58 L698.59 261.65 L698.66 261.72 L698.73 261.79 L698.80 261.86 L698.87 261.93 L698.94 262.00 L699.01 262.08 L699.08 262.15 L699.15 262.22 L699.22 262.29 L699.29 262.36 L699.36 262.43 L699.43 262.50 L699.50 262.57 M703.07 265.93 L703.52 266.33 L703.97 266.72 L704.42 267.12 L704.88 267.50 L705.34 267.89 L705.80 268.27 L706.27 268.65 L706.74 269.02 L707.21 269.39 L707.68 269.76 L708.16 270.13 L708.64 270.49 L709.04 270.78 M713.00 273.50 L713.08 273.56 L713.17 273.61 L713.25 273.66 L713.33 273.72 L713.42 273.77 L713.50 273.82 L713.59 273.88 L713.67 273.93 L713.76 273.98 L713.84 274.04 L713.93 274.09 L714.01 274.14 L714.10 274.20 L714.18 274.25 L714.27 274.30 M718.44 276.67 L718.53 276.72 L718.62 276.76 L718.71 276.81 L718.80 276.86 L718.88 276.90 L718.97 276.95 L719.06 276.99 L719.15 277.04 L719.24 277.08 L719.33 277.13 L719.42 277.17 L719.51 277.22 L719.60 277.26 L719.69 277.31 L719.78 277.35 M724.14 279.35 L724.69 279.58 L725.25 279.81 L725.81 280.03 L726.37 280.24 L726.93 280.46 L727.49 280.66 L728.06 280.87 L728.62 281.06 L729.19 281.26 L729.76 281.45 L730.33 281.64 L730.90 281.82 L731.38 281.97 M736.10 283.27 L736.20 283.30 L736.29 283.32 L736.39 283.35 L736.49 283.37 L736.59 283.39 L736.68 283.42 L736.78 283.44 L736.88 283.46 L736.98 283.49 L737.07 283.51 L737.17 283.53 L737.27 283.56 L737.36 283.58 L737.46 283.60 M742.16 284.59 L742.26 284.61 L742.35 284.63 L742.45 284.65 L742.55 284.67 L742.65 284.69 L742.75 284.71 L742.85 284.72 L742.94 284.74 L743.04 284.76 L743.14 284.78 L743.24 284.80 L743.34 284.81 L743.44 284.83 L743.53 284.85 L743.63 284.87 M748.37 285.64 L748.96 285.73 L749.56 285.81 L750.15 285.90 L750.75 285.98 L751.34 286.06 L751.94 286.14 L752.53 286.22 L753.13 286.30 L753.72 286.37 L754.32 286.45 L754.91 286.53 L755.51 286.60 L756.10 286.67 M760.87 287.26 L760.96 287.27 L761.06 287.29 L761.16 287.30 L761.26 287.31 L761.36 287.32 L761.46 287.34 L761.56 287.35 L761.66 287.36 L761.76 287.37 L761.86 287.39 L761.96 287.40 L762.06 287.41 L762.16 287.42 L762.25 287.44 L762.35 287.45 M767.11 288.08 L767.21 288.09 L767.31 288.11 L767.41 288.12 L767.51 288.14 L767.61 288.15 L767.71 288.17 L767.81 288.18 L767.90 288.19 L768.00 288.21 L768.10 288.22 L768.20 288.24 L768.30 288.25" stroke="#000"/>
<path d="M75.70 289.20 L76.20 289.22 L76.69 289.23 L77.19 289.25 L77.68 289.26 L78.18 289.27 L78.67 289.29 L79.17 289.30 L79.66 289.32 L80.16 289.33 L80.65 289.34 L81.15 289.36 L81.64 289.37 L82.14 289.38 L82.63 289.39 L83.13 289.41 L83.62 289.42 L84.12 289.43 L84.61 289.44 L85.11 289.45 L85.60 289.47 L86.10 289.48 L86.59 289.49 L87.09 289.50 L87.58 289.51 L88.08 289.52 L88.57 289.53 L89.07 289.55 L89.56 289.56 L90.06 289.57 L90.55 289.58 L91.05 289.59 L91.54 289.60 L92.04 289.61 L92.53 289.62 L93.03 289.63 L93.52 289.64 L94.02 289.65 L94.51 289.66 L95.01 289.66 L95.50 289.67 L96.00 289.68 L96.49 289.69 L96.99 289.70 L97.48 289.71 L97.98 289.72 L98.47 289.73 L98.97 289.73 L99.46 289.74 L99.96 289.75 L100.45 289.76 L100.95 289.77 L101.44 289.77 L101.94 289.78 L102.43 289.79 L102.93 289.80 L103.42 289.80 L103.92 289.81 L104.41 289.82 L104.91 289.82 L105.40 289.83 L105.90 289.84 L106.39 289.84 L106.89 289.85 L107.38 289.86 L107.88 289.86 L108.37 289.87 L108.87 289.88 L109.36 289.88 L109.86 289.89 L110.35 289.89 L110.85 289.90 L111.34 289.90 L111.84 289.91 L112.34 289.92 L112.83 289.92 L113.33 289.93 L113.82 289.93 L114.32 289.94 L114.81 289.94 L115.31 289.95 L115.80 289.95 L116.30 289.95 L116.79 289.96 L117.29 289.96 L117.78 289.97 L118.28 289.97 L118.77 289.98 L119.27 289.98 L119.76 289.98 L120.26 289.99 L120.75 289.99 L121.25 290.00 L121.74 290.00 L122.24 290.00 L122.73 290.01 L123.23 290.01 L123.72 290.01 L124.22 290.02 L124.71 290.02 L125.21 290.02 L125.70 290.03 L126.20 290.03 L126.69 290.03 L127.19 290.03 L127.68 290.04 L128.18 290.04 L128.67 290.04 L129.17 290.05 L129.66 290.05 L130.16 290.05 L130.65 290.05 L131.15 290.06 L131.64 290.06 L132.14 290.06 L132.63 290.06 L133.13 290.06 L133.62 290.07 L134.12 290.07 L134.61 290.07 L135.11 290.07 L135.60 290.07 L136.10 290.07 L136.59 290.08 L137.09 290.08 L137.58 290.08 L138.08 290.08 L138.57 290.08 L139.07 290.08 L139.56 290.09 L140.06 290.09 L140.55 290.09 L141.05 290.09 L141.54 290.09 L142.04 290.09 L142.53 290.09 L143.03 290.09 L143.52 290.09 L144.02 290.10 L144.51 290.10 L145.01 290.10 L145.50 290.10 L146.00 290.10 L146.49 290.10 L146.99 290.10 L147.48 290.10 L147.98 290.10 L148.47 290.10 L148.97 290.10 L149.47 290.10 L149.96 290.10 L150.46 290.10 L150.95 290.10 L151.45 290.11 L151.94 290.11 L152.44 290.11 L152.93 290.11 L153.43 290.11 L153.92 290.11 L154.42 290.11 L154.91 290.11 L155.41 290.11 L155.90 290.11 L156.40 290.11 L156.89 290.11 L157.39 290.11 L157.88 290.11 L158.38 290.11 L158.87 290.11 L159.37 290.11 L159.86 290.11 L160.36 290.11 L160.85 290.11 L161.35 290.11 L161.84 290.11 L162.34 290.11 L162.83 290.11 L163.33 290.11 L163.82 290.11 L164.32 290.11 L164.81 290.11 L165.31 290.11 L165.80 290.11 L166.30 290.11 L166.79 290.11 L167.29 290.11 L167.78 290.11 L168.28 290.11 L168.77 290.11 L169.27 290.11 L169.76 290.11 L170.26 290.11 L170.75 290.11 L171.25 290.11 L171.74 290.11 L172.24 290.11 L172.73 290.11 L173.23 290.11 L173.72 290.11 L174.22 290.11 L174.71 290.11 L175.21 290.11 L175.70 290.11 L176.20 290.11 L176.69 290.11 L177.19 290.11 L177.68 290.11 L178.18 290.11 L178.67 290.11 L179.17 290.11 L179.66 290.11 L180.16 290.11 L180.65 290.11 L181.15 290.11 L181.64 290.11 L182.14 290.11 L182.63 290.11 L183.13 290.11 L183.62 290.11 L184.12 290.11 L184.61 290.11 L185.11 290.11 L185.61 290.11 L186.10 290.12 L186.60 290.12 L187.09 290.12 L187.59 290.12 L188.08 290.12 L188.58 290.12 L189.07 290.12 L189.57 290.12 L190.06 290.12 L190.56 290.12 L191.05 290.12 L191.55 290.12 L192.04 290.12 L192.54 290.13 L193.03 290.13 L193.53 290.13 L194.02 290.13 L194.52 290.13 L195.01 290.13 L195.51 290.13 L196.00 290.13 L196.50 290.14 L196.99 290.14 L197.49 290.14 L197.98 290.14 L198.48 290.14 L198.97 290.14 L199.47 290.15 L199.96 290.15 L200.46 290.15 L200.95 290.15 L201.45 290.15 L201.94 290.16 L202.44 290.16 L202.93 290.16 L203.43 290.16 L203.92 290.16 L204.42 290.17 L204.91 290.17 L205.41 290.17 L205.90 290.17 L206.40 290.18 L206.89 290.18 L207.39 290.18 L207.88 290.18 L208.38 290.19 L208.87 290.19 L209.37 290.19 L209.86 290.20 L210.36 290.20 L210.85 290.20 L211.35 290.21 L211.84 290.21 L212.34 290.21 L212.83 290.22 L213.33 290.22 L213.82 290.22 L214.32 290.23 L214.81 290.23 L215.31 290.24 L215.80 290.24 L216.30 290.24 L216.79 290.25 L217.29 290.25 L217.78 290.26 L218.28 290.26 L218.77 290.27 L219.27 290.27 L219.76 290.28 L220.26 290.28 L220.75 290.28 L221.25 290.29 L221.75 290.29 L222.24 290.30 L222.74 290.31 L223.23 290.31 L223.73 290.32 L224.22 290.32 L224.72 290.33 L225.21 290.33 L225.71 290.34 L226.20 290.35 L226.70 290.35 L227.19 290.36 L227.69 290.36 L228.18 290.37 L228.68 290.38 L229.17 290.38 L229.67 290.39 L230.16 290.40 L230.66 290.40 L231.15 290.41 L231.65 290.42 L232.14 290.43 L232.64 290.43 L233.13 290.44 L233.63 290.45 L234.12 290.46 L234.62 290.46 L235.11 290.47 L235.61 290.48 L236.10 290.49 L236.60 290.50 L237.09 290.50 L237.59 290.51 L238.08 290.52 L238.58 290.53 L239.07 290.54 L239.57 290.55 L240.06 290.56 L240.56 290.57 L241.05 290.58 L241.55 290.59 L242.04 290.60 L242.54 290.61 L243.03 290.62 L243.53 290.63 L244.02 290.64 L244.52 290.65 L245.01 290.66 L245.51 290.67 L246.00 290.68 L246.50 290.69 L246.99 290.70 L247.49 290.71 L247.98 290.72 L248.48 290.73 L248.97 290.75 L249.47 290.76 L249.96 290.77 L250.46 290.78 L250.95 290.79 L251.45 290.81 L251.94 290.82 L252.44 290.83 L252.93 290.84 L253.43 290.86 L253.92 290.87 L254.42 290.88 L254.91 290.90 L255.41 290.91 L255.90 290.92 L256.40 290.94 L256.89 290.95 L257.39 290.97 L257.88 290.98 L258.38 290.99 L258.88 291.01 L259.37 291.02 L259.87 291.04 L260.36 291.05 L260.86 291.07 L261.35 291.08 L261.85 291.10 L262.34 291.12 L262.84 291.13 L263.33 291.15 L263.83 291.16 L264.32 291.18 L264.82 291.20 L265.31 291.21 L265.81 291.23 L266.30 291.25 L266.80 291.26 L267.29 291.28 L267.79 291.30 L268.28 291.32 L268.78 291.34 L269.27 291.35 L269.77 291.37 L270.26 291.39 L270.76 291.41 L271.25 291.43 L271.75 291.45 L272.24 291.47 L272.74 291.49 L273.23 291.50 L273.73 291.52 L274.22 291.54 L274.72 291.56 L275.21 291.58 L275.71 291.61 L276.20 291.63 L276.70 291.65 L277.19 291.67 L277.69 291.69 L278.18 291.71 L278.68 291.73 L279.17 291.75 L279.67 291.78 L280.16 291.80 L280.66 291.82 L281.15 291.84 L281.65 291.87 L282.14 291.89 L282.64 291.91 L283.13 291.94 L283.63 291.96 L284.12 291.98 L284.62 292.01 L285.11 292.03 L285.61 292.06 L286.10 292.08 L286.60 292.11 L287.09 292.13 L287.59 292.16 L288.08 292.18 L288.58 292.21 L289.07 292.23 L289.57 292.26 L290.06 292.29 L290.56 292.31 L291.05 292.34 L291.55 292.37 L292.04 292.39 L292.54 292.42 L293.03 292.45 L293.53 292.48 L294.02 292.50 L294.52 292.53 L295.02 292.56 L295.51 292.59 L296.01 292.62 L296.50 292.65 L297.00 292.68 L297.49 292.71 L297.99 292.74 L298.48 292.77 L298.98 292.80 L299.47 292.83 L299.97 292.86 L300.46 292.89 L300.96 292.92 L301.45 292.95 L301.95 292.98 L302.44 293.02 L302.94 293.05 L303.43 293.08 L303.93 293.11 L304.42 293.15 L304.92 293.18 L305.41 293.21 L305.91 293.25 L306.40 293.28 L306.90 293.31 L307.39 293.35 L307.89 293.38 L308.38 293.42 L308.88 293.45 L309.37 293.49 L309.87 293.52 L310.36 293.56 L310.86 293.59 L311.35 293.63 L311.85 293.67 L312.34 293.70 L312.84 293.74 L313.33 293.78 L313.83 293.82 L314.32 293.85 L314.82 293.89 L315.31 293.93 L315.81 293.97 L316.30 294.01 L316.80 294.05 L317.29 294.09 L317.79 294.13 L318.28 294.17 L318.78 294.21 L319.27 294.25 L319.77 294.29 L320.26 294.33 L320.76 294.37 L321.25 294.41 L321.75 294.45 L322.24 294.49 L322.74 294.54 L323.23 294.58 L323.73 294.62 L324.22 294.66 L324.72 294.71 L325.21 294.75 L325.71 294.80 L326.20 294.84 L326.70 294.88 L327.19 294.93 L327.69 294.97 L328.18 295.02 L328.68 295.07 L329.17 295.11 L329.67 295.16 L330.16 295.20 L330.66 295.25 L331.16 295.30 L331.65 295.34 L332.15 295.39 L332.64 295.44 L333.14 295.49 L333.63 295.54 L334.13 295.59 L334.62 295.63 L335.12 295.68 L335.61 295.73 L336.11 295.78 L336.60 295.83 L337.10 295.88 L337.59 295.93 L338.09 295.99 L338.58 296.04 L339.08 296.09 L339.57 296.14 L340.07 296.19 L340.56 296.25 L341.06 296.30 L341.55 296.35 L342.05 296.40 L342.54 296.46 L343.04 296.51 L343.53 296.57 L344.03 296.62 L344.52 296.68 L345.02 296.73 L345.51 296.79 L346.01 296.84 L346.50 296.90 L347.00 296.96 L347.49 297.01 L347.99 297.07 L348.48 297.13 L348.98 297.19 L349.47 297.24 L349.97 297.30 L350.46 297.36 L350.96 297.42 L351.45 297.48 L351.95 297.54 L352.44 297.60 L352.94 297.66 L353.43 297.72 L353.93 297.78 L354.42 297.84 L354.92 297.90 L355.41 297.97 L355.91 298.03 L356.40 298.09 L356.90 298.15 L357.39 298.22 L357.89 298.28 L358.38 298.34 L358.88 298.41 L359.37 298.47 L359.87 298.54 L360.36 298.60 L360.86 298.67 L361.35 298.74 L361.85 298.80 L362.34 298.87 L362.84 298.94 L363.33 299.00 L363.83 299.07 L364.32 299.14 L364.82 299.21 L365.31 299.28 L365.81 299.34 L366.30 299.41 L366.80 299.48 L367.29 299.55 L367.79 299.62 L368.29 299.69 L368.78 299.77 L369.28 299.84 L369.77 299.91 L370.27 299.98 L370.76 300.05 L371.26 300.13 L371.75 300.20 L372.25 300.27 L372.74 300.35 L373.24 300.42 L373.73 300.50 L374.23 300.57 L374.72 300.65 L375.22 300.72 L375.71 300.80 L376.21 300.88 L376.70 300.96 L377.20 301.03 L377.69 301.11 L378.19 301.19 L378.68 301.27 L379.18 301.35 L379.67 301.43 L380.17 301.51 L380.66 301.59 L381.16 301.67 L381.65 301.75 L382.15 301.84 L382.64 301.92 L383.14 302.00 L383.63 302.08 L384.13 302.17 L384.62 302.25 L385.12 302.34 L385.61 302.42 L386.11 302.51 L386.60 302.60 L387.10 302.68 L387.59 302.77 L388.09 302.86 L388.58 302.95 L389.08 303.04 L389.57 303.12 L390.07 303.21 L390.56 303.30 L391.06 303.40 L391.55 303.49 L392.05 303.58 L392.54 303.67 L393.04 303.76 L393.53 303.86 L394.03 303.95 L394.52 304.05 L395.02 304.14 L395.51 304.24 L396.01 304.33 L396.50 304.43 L397.00 304.53 L397.49 304.63 L397.99 304.73 L398.48 304.82 L398.98 304.92 L399.47 305.02 L399.97 305.13 L400.46 305.23 L400.96 305.33 L401.45 305.43 L401.95 305.53 L402.44 305.64 L402.94 305.74 L403.43 305.85 L403.93 305.95 L404.43 306.06 L404.92 306.17 L405.42 306.27 L405.91 306.38 L406.41 306.49 L406.90 306.60 L407.40 306.71 L407.89 306.82 L408.39 306.93 L408.88 307.05 L409.38 307.16 L409.87 307.27 L410.37 307.38 L410.86 307.50 L411.36 307.61 L411.85 307.73 L412.35 307.85 L412.84 307.96 L413.34 308.08 L413.83 308.20 L414.33 308.32 L414.82 308.44 L415.32 308.56 L415.81 308.68 L416.31 308.80 L416.80 308.93 L417.30 309.05 L417.79 309.18 L418.29 309.30 L418.78 309.43 L419.28 309.55 L419.77 309.68 L420.27 309.81 L420.76 309.94 L421.26 310.06 L421.75 310.19 L422.25 310.33 L422.74 310.46 L423.24 310.59 L423.73 310.72 L424.23 310.86 L424.72 310.99 L425.22 311.13 L425.71 311.26 L426.21 311.40 L426.70 311.54 L427.20 311.68 L427.69 311.81 L428.19 311.95 L428.68 312.09 L429.18 312.24 L429.67 312.38 L430.17 312.52 L430.66 312.67 L431.16 312.81 L431.65 312.96 L432.15 313.10 L432.64 313.25 L433.14 313.40 L433.63 313.54 L434.13 313.69 L434.62 313.84 L435.12 313.99 L435.61 314.14 L436.11 314.29 L436.60 314.44 L437.10 314.59 L437.59 314.75 L438.09 314.90 L438.58 315.05 L439.08 315.21 L439.57 315.36 L440.07 315.51 L440.57 315.67 L441.06 315.82 L441.56 315.98 L442.05 316.14 L442.55 316.29 L443.04 316.45 L443.54 316.61 L444.03 316.76 L444.53 316.92 L445.02 317.08 L445.52 317.23 L446.01 317.39 L446.51 317.55 L447.00 317.71 L447.50 317.87 L447.99 318.03 L448.49 318.18 L448.98 318.34 L449.48 318.50 L449.97 318.66 L450.47 318.82 L450.96 318.98 L451.46 319.14 L451.95 319.30 L452.45 319.45 L452.94 319.61 L453.44 319.77 L453.93 319.93 L454.43 320.09 L454.92 320.25 L455.42 320.41 L455.91 320.56 L456.41 320.72 L456.90 320.88 L457.40 321.04 L457.89 321.19 L458.39 321.35 L458.88 321.51 L459.38 321.66 L459.87 321.82 L460.37 321.98 L460.86 322.13 L461.36 322.29 L461.85 322.44 L462.35 322.60 L462.84 322.75 L463.34 322.90 L463.83 323.06 L464.33 323.21 L464.82 323.36 L465.32 323.51 L465.81 323.67 L466.31 323.82 L466.80 323.97 L467.30 324.12 L467.79 324.26 L468.29 324.41 L468.78 324.56 L469.28 324.71 L469.77 324.85 L470.27 325.00 L470.76 325.15 L471.26 325.29 L471.75 325.43 L472.25 325.58 L472.74 325.72 L473.24 325.86 L473.73 326.00 L474.23 326.14 L474.72 326.28 L475.22 326.42 L475.71 326.56 L476.21 326.69 L476.71 326.83 L477.20 326.96 L477.70 327.10 L478.19 327.23 L478.69 327.36 L479.18 327.49 L479.68 327.62 L480.17 327.75 L480.67 327.88 L481.16 328.00 L481.66 328.13 L482.15 328.25 L482.65 328.38 L483.14 328.50 L483.64 328.62 L484.13 328.74 L484.63 328.86 L485.12 328.98 L485.62 329.09 L486.11 329.21 L486.61 329.32 L487.10 329.44 L487.60 329.55 L488.09 329.66 L488.59 329.77 L489.08 329.87 L489.58 329.98 L490.07 330.08 L490.57 330.19 L491.06 330.29 L491.56 330.39 L492.05 330.49 L492.55 330.59 L493.04 330.68 L493.54 330.78 L494.03 330.87 L494.53 330.96 L495.02 331.05 L495.52 331.14 L496.01 331.23 L496.51 331.32 L497.00 331.40 L497.50 331.48 L497.99 331.56 L498.49 331.64 L498.98 331.72 L499.48 331.80 L499.97 331.87 L500.47 331.94 L500.96 332.01 L501.46 332.08 L501.95 332.15 L502.45 332.21 L502.94 332.28 L503.44 332.34 L503.93 332.40 L504.43 332.46 L504.92 332.52 L505.42 332.57 L505.91 332.62 L506.41 332.67 L506.90 332.72 L507.40 332.77 L507.89 332.82 L508.39 332.86 L508.88 332.90 L509.38 332.94 L509.87 332.98 L510.37 333.01 L510.86 333.05 L511.36 333.08 L511.85 333.11 L512.35 333.13 L512.84 333.16 L513.34 333.18 L513.84 333.20 L514.33 333.22 L514.83 333.24 L515.32 333.25 L515.82 333.27 L516.31 333.28 L516.81 333.28 L517.30 333.29 L517.80 333.29 L518.29 333.29 L518.79 333.29 L519.28 333.29 L519.78 333.28 L520.27 333.28 L520.77 333.27 L521.26 333.25 L521.76 333.24 L522.25 333.22 L522.75 333.20 L523.24 333.18 L523.74 333.15 L524.23 333.13 L524.73 333.10 L525.22 333.07 L525.72 333.03 L526.21 333.00 L526.71 332.96 L527.20 332.91 L527.70 332.87 L528.19 332.82 L528.69 332.77 L529.18 332.72 L529.68 332.67 L530.17 332.61 L530.67 332.55 L531.16 332.49 L531.66 332.43 L532.15 332.36 L532.65 332.29 L533.14 332.22 L533.64 332.15 L534.13 332.07 L534.63 332.00 L535.12 331.92 L535.62 331.83 L536.11 331.75 L536.61 331.66 L537.10 331.57 L537.60 331.48 L538.09 331.39 L538.59 331.29 L539.08 331.20 L539.58 331.10 L540.07 330.99 L540.57 330.89 L541.06 330.78 L541.56 330.68 L542.05 330.57 L542.55 330.45 L543.04 330.34 L543.54 330.22 L544.03 330.10 L544.53 329.98 L545.02 329.86 L545.52 329.74 L546.01 329.61 L546.51 329.48 L547.00 329.35 L547.50 329.22 L547.99 329.08 L548.49 328.95 L548.98 328.81 L549.48 328.67 L549.98 328.53 L550.47 328.39 L550.97 328.24 L551.46 328.09 L551.96 327.94 L552.45 327.79 L552.95 327.64 L553.44 327.49 L553.94 327.33 L554.43 327.17 L554.93 327.01 L555.42 326.85 L555.92 326.69 L556.41 326.52 L556.91 326.36 L557.40 326.19 L557.90 326.02 L558.39 325.85 L558.89 325.68 L559.38 325.50 L559.88 325.33 L560.37 325.15 L560.87 324.97 L561.36 324.79 L561.86 324.61 L562.35 324.42 L562.85 324.24 L563.34 324.05 L563.84 323.86 L564.33 323.67 L564.83 323.48 L565.32 323.29 L565.82 323.10 L566.31 322.90 L566.81 322.71 L567.30 322.51 L567.80 322.31 L568.29 322.11 L568.79 321.91 L569.28 321.71 L569.78 321.51 L570.27 321.30 L570.77 321.10 L571.26 320.89 L571.76 320.68 L572.25 320.48 L572.75 320.27 L573.24 320.06 L573.74 319.85 L574.23 319.64 L574.73 319.43 L575.22 319.22 L575.72 319.00 L576.21 318.79 L576.71 318.58 L577.20 318.36 L577.70 318.15 L578.19 317.93 L578.69 317.71 L579.18 317.50 L579.68 317.28 L580.17 317.06 L580.67 316.85 L581.16 316.63 L581.66 316.41 L582.15 316.19 L582.65 315.97 L583.14 315.75 L583.64 315.53 L584.13 315.32 L584.63 315.10 L585.12 314.88 L585.62 314.66 L586.12 314.44 L586.61 314.22 L587.11 314.00 L587.60 313.78 L588.10 313.56 L588.59 313.34 L589.09 313.13 L589.58 312.91 L590.08 312.69 L590.57 312.47 L591.07 312.26 L591.56 312.04 L592.06 311.82 L592.55 311.61 L593.05 311.39 L593.54 311.18 L594.04 310.96 L594.53 310.75 L595.03 310.53 L595.52 310.32 L596.02 310.11 L596.51 309.90 L597.01 309.69 L597.50 309.48 L598.00 309.27 L598.49 309.06 L598.99 308.85 L599.48 308.65 L599.98 308.44 L600.47 308.24 L600.97 308.03 L601.46 307.83 L601.96 307.63 L602.45 307.43 L602.95 307.23 L603.44 307.03 L603.94 306.84 L604.43 306.64 L604.93 306.45 L605.42 306.25 L605.92 306.06 L606.41 305.87 L606.91 305.68 L607.40 305.49 L607.90 305.31 L608.39 305.12 L608.89 304.94 L609.38 304.76 L609.88 304.58 L610.37 304.40 L610.87 304.22 L611.36 304.04 L611.86 303.87 L612.35 303.69 L612.85 303.52 L613.34 303.35 L613.84 303.18 L614.33 303.01 L614.83 302.85 L615.32 302.68 L615.82 302.52 L616.31 302.36 L616.81 302.20 L617.30 302.04 L617.80 301.88 L618.29 301.72 L618.79 301.57 L619.28 301.41 L619.78 301.26 L620.27 301.11 L620.77 300.96 L621.26 300.81 L621.76 300.66 L622.25 300.51 L622.75 300.37 L623.25 300.23 L623.74 300.08 L624.24 299.94 L624.73 299.80 L625.23 299.66 L625.72 299.53 L626.22 299.39 L626.71 299.26 L627.21 299.12 L627.70 298.99 L628.20 298.86 L628.69 298.73 L629.19 298.60 L629.68 298.47 L630.18 298.35 L630.67 298.22 L631.17 298.10 L631.66 297.97 L632.16 297.85 L632.65 297.73 L633.15 297.61 L633.64 297.49 L634.14 297.38 L634.63 297.26 L635.13 297.15 L635.62 297.03 L636.12 296.92 L636.61 296.81 L637.11 296.70 L637.60 296.59 L638.10 296.48 L638.59 296.38 L639.09 296.27 L639.58 296.17 L640.08 296.06 L640.57 295.96 L641.07 295.86 L641.56 295.76 L642.06 295.66 L642.55 295.56 L643.05 295.47 L643.54 295.37 L644.04 295.28 L644.53 295.18 L645.03 295.09 L645.52 295.00 L646.02 294.91 L646.51 294.82 L647.01 294.73 L647.50 294.64 L648.00 294.55 L648.49 294.47 L648.99 294.38 L649.48 294.30 L649.98 294.22 L650.47 294.14 L650.97 294.06 L651.46 293.98 L651.96 293.90 L652.45 293.82 L652.95 293.74 L653.44 293.67 L653.94 293.59 L654.43 293.52 L654.93 293.44 L655.42 293.37 L655.92 293.30 L656.41 293.23 L656.91 293.16 L657.40 293.09 L657.90 293.02 L658.39 292.96 L658.89 292.89 L659.39 292.83 L659.88 292.76 L660.38 292.70 L660.87 292.64 L661.37 292.58 L661.86 292.51 L662.36 292.45 L662.85 292.40 L663.35 292.34 L663.84 292.28 L664.34 292.22 L664.83 292.17 L665.33 292.11 L665.82 292.06 L666.32 292.00 L666.81 291.95 L667.31 291.90 L667.80 291.85 L668.30 291.80 L668.79 291.75 L669.29 291.70 L669.78 291.65 L670.28 291.60 L670.77 291.56 L671.27 291.51 L671.76 291.47 L672.26 291.42 L672.75 291.38 L673.25 291.34 L673.74 291.29 L674.24 291.25 L674.73 291.21 L675.23 291.17 L675.72 291.13 L676.22 291.09 L676.71 291.06 L677.21 291.02 L677.70 290.98 L678.20 290.95 L678.69 290.91 L679.19 290.87 L679.68 290.84 L680.18 290.81 L680.67 290.77 L681.17 290.74 L681.66 290.71 L682.16 290.68 L682.65 290.65 L683.15 290.62 L683.64 290.59 L684.14 290.56 L684.63 290.53 L685.13 290.51 L685.62 290.48 L686.12 290.45 L686.61 290.43 L687.11 290.40 L687.60 290.38 L688.10 290.35 L688.59 290.33 L689.09 290.31 L689.58 290.28 L690.08 290.26 L690.57 290.24 L691.07 290.22 L691.56 290.20 L692.06 290.18 L692.55 290.16 L693.05 290.14 L693.54 290.12 L694.04 290.10 L694.53 290.09 L695.03 290.07 L695.53 290.05 L696.02 290.04 L696.52 290.02 L697.01 290.00 L697.51 289.99 L698.00 289.97 L698.50 289.96 L698.99 289.95 L699.49 289.93 L699.98 289.92 L700.48 289.91 L700.97 289.90 L701.47 289.89 L701.96 289.87 L702.46 289.86 L702.95 289.85 L703.45 289.84 L703.94 289.83 L704.44 289.82 L704.93 289.81 L705.43 289.81 L705.92 289.80 L706.42 289.79 L706.91 289.78 L707.41 289.77 L707.90 289.77 L708.40 289.76 L708.89 289.75 L709.39 289.75 L709.88 289.74 L710.38 289.74 L710.87 289.73 L711.37 289.73 L711.86 289.72 L712.36 289.72 L712.85 289.71 L713.35 289.71 L713.84 289.71 L714.34 289.70 L714.83 289.70 L715.33 289.70 L715.82 289.69 L716.32 289.69 L716.81 289.69 L717.31 289.69 L717.80 289.68 L718.30 289.68 L718.79 289.68 L719.29 289.68 L719.78 289.68 L720.28 289.68 L720.77 289.68 L721.27 289.68 L721.76 289.68 L722.26 289.68 L722.75 289.68 L723.25 289.68 L723.74 289.68 L724.24 289.68 L724.73 289.68 L725.23 289.68 L725.72 289.68 L726.22 289.68 L726.71 289.68 L727.21 289.68 L727.70 289.68 L728.20 289.68 L728.69 289.68 L729.19 289.68 L729.68 289.69 L730.18 289.69 L730.67 289.69 L731.17 289.69 L731.66 289.69 L732.16 289.69 L732.66 289.69 L733.15 289.70 L733.65 289.70 L734.14 289.70 L734.64 289.70 L735.13 289.70 L735.63 289.70 L736.12 289.71 L736.62 289.71 L737.11 289.71 L737.61 289.71 L738.10 289.71 L738.60 289.71 L739.09 289.71 L739.59 289.72 L740.08 289.72 L740.58 289.72 L741.07 289.72 L741.57 289.72 L742.06 289.72 L742.56 289.72 L743.05 289.72 L743.55 289.73 L744.04 289.73 L744.54 289.73 L745.03 289.73 L745.53 289.73 L746.02 289.73 L746.52 289.73 L747.01 289.73 L747.51 289.73 L748.00 289.73 L748.50 289.73 L748.99 289.73 L749.49 289.73 L749.98 289.73 L750.48 289.72 L750.97 289.72 L751.47 289.72 L751.96 289.72 L752.46 289.72 L752.95 289.72 L753.45 289.71 L753.94 289.71 L754.44 289.71 L754.93 289.71 L755.43 289.70 L755.92 289.70 L756.42 289.70 L756.91 289.69 L757.41 289.69 L757.90 289.68 L758.40 289.68 L758.89 289.67 L759.39 289.67 L759.88 289.66 L760.38 289.66 L760.87 289.65 L761.37 289.65 L761.86 289.64 L762.36 289.63 L762.85 289.63 L763.35 289.62 L763.84 289.61 L764.34 289.60 L764.83 289.59 L765.33 289.59 L765.82 289.58 L766.32 289.57 L766.81 289.56 L767.31 289.55 L767.80 289.54 L768.30 289.52" stroke="#0000ff" stroke-dasharray="7.8300,4.6980" stroke-dashoffset="0.00"/>
<path d="M75.70 289.33 L76.20 289.33 L76.69 289.33 L77.19 289.33 L77.68 289.33 L78.18 289.32 L78.67 289.32 L79.17 289.32 L79.66 289.32 L80.16 289.32 L80.65 289.32 L81.15 289.32 L81.64 289.31 L82.14 289.31 L82.63 289.31 L83.13 289.31 L83.62 289.31 L84.12 289.31 L84.61 289.31 L85.11 289.30 L85.60 289.30 L86.10 289.30 L86.59 289.30 L87.09 289.30 L87.58 289.30 L88.08 289.30 L88.57 289.30 L89.07 289.29 L89.56 289.29 L90.06 289.29 L90.55 289.29 L91.05 289.29 L91.54 289.29 L92.04 289.29 L92.53 289.29 L93.03 289.29 L93.52 289.28 L94.02 289.28 L94.51 289.28 L95.01 289.28 L95.50 289.28 L96.00 289.28 L96.49 289.28 L96.99 289.28 L97.48 289.28 L97.98 289.28 L98.47 289.27 L98.97 289.27 L99.46 289.27 L99.96 289.27 L100.45 289.27 L100.95 289.27 L101.44 289.27 L101.94 289.27 L102.43 289.27 L102.93 289.27 L103.42 289.27 L103.92 289.27 L104.41 289.26 L104.91 289.26 L105.40 289.26 L105.90 289.26 L106.39 289.26 L106.89 289.26 L107.38 289.26 L107.88 289.26 L108.37 289.26 L108.87 289.26 L109.36 289.26 L109.86 289.26 L110.35 289.26 L110.85 289.26 L111.34 289.26 L111.84 289.26 L112.34 289.26 L112.83 289.26 L113.33 289.26 L113.82 289.25 L114.32 289.25 L114.81 289.25 L115.31 289.25 L115.80 289.25 L116.30 289.25 L116.79 289.25 L117.29 289.25 L117.78 289.25 L118.28 289.25 L118.77 289.25 L119.27 289.25 L119.76 289.25 L120.26 289.25 L120.75 289.25 L121.25 289.25 L121.74 289.25 L122.24 289.25 L122.73 289.25 L123.23 289.25 L123.72 289.25 L124.22 289.25 L124.71 289.25 L125.21 289.25 L125.70 289.25 L126.20 289.25 L126.69 289.25 L127.19 289.25 L127.68 289.25 L128.18 289.25 L128.67 289.25 L129.17 289.25 L129.66 289.25 L130.16 289.26 L130.65 289.26 L131.15 289.26 L131.64 289.26 L132.14 289.26 L132.63 289.26 L133.13 289.26 L133.62 289.26 L134.12 289.26 L134.61 289.26 L135.11 289.26 L135.60 289.26 L136.10 289.26 L136.59 289.26 L137.09 289.26 L137.58 289.26 L138.08 289.26 L138.57 289.27 L139.07 289.27 L139.56 289.27 L140.06 289.27 L140.55 289.27 L141.05 289.27 L141.54 289.27 L142.04 289.27 L142.53 289.27 L143.03 289.27 L143.52 289.27 L144.02 289.28 L144.51 289.28 L145.01 289.28 L145.50 289.28 L146.00 289.28 L146.49 289.28 L146.99 289.28 L147.48 289.28 L147.98 289.29 L148.47 289.29 L148.97 289.29 L149.47 289.29 L149.96 289.29 L150.46 289.29 L150.95 289.29 L151.45 289.30 L151.94 289.30 L152.44 289.30 L152.93 289.30 L153.43 289.30 L153.92 289.30 L154.42 289.30 L154.91 289.31 L155.41 289.31 L155.90 289.31 L156.40 289.31 L156.89 289.31 L157.39 289.32 L157.88 289.32 L158.38 289.32 L158.87 289.32 L159.37 289.32 L159.86 289.33 L160.36 289.33 L160.85 289.33 L161.35 289.33 L161.84 289.33 L162.34 289.34 L162.83 289.34 L163.33 289.34 L163.82 289.34 L164.32 289.34 L164.81 289.35 L165.31 289.35 L165.80 289.35 L166.30 289.35 L166.79 289.36 L167.29 289.36 L167.78 289.36 L168.28 289.36 L168.77 289.37 L169.27 289.37 L169.76 289.37 L170.26 289.37 L170.75 289.38 L171.25 289.38 L171.74 289.38 L172.24 289.39 L172.73 289.39 L173.23 289.39 L173.72 289.39 L174.22 289.40 L174.71 289.40 L175.21 289.40 L175.70 289.41 L176.20 289.41 L176.69 289.41 L177.19 289.42 L177.68 289.42 L178.18 289.42 L178.67 289.43 L179.17 289.43 L179.66 289.43 L180.16 289.44 L180.65 289.44 L181.15 289.44 L181.64 289.45 L182.14 289.45 L182.63 289.45 L183.13 289.46 L183.62 289.46 L184.12 289.46 L184.61 289.47 L185.11 289.47 L185.61 289.48 L186.10 289.48 L186.60 289.48 L187.09 289.49 L187.59 289.49 L188.08 289.49 L188.58 289.50 L189.07 289.50 L189.57 289.51 L190.06 289.51 L190.56 289.51 L191.05 289.52 L191.55 289.52 L192.04 289.53 L192.54 289.53 L193.03 289.54 L193.53 289.54 L194.02 289.54 L194.52 289.55 L195.01 289.55 L195.51 289.56 L196.00 289.56 L196.50 289.57 L196.99 289.57 L197.49 289.58 L197.98 289.58 L198.48 289.59 L198.97 289.59 L199.47 289.60 L199.96 289.60 L200.46 289.61 L200.95 289.61 L201.45 289.62 L201.94 289.62 L202.44 289.63 L202.93 289.63 L203.43 289.64 L203.92 289.64 L204.42 289.65 L204.91 289.65 L205.41 289.66 L205.90 289.66 L206.40 289.67 L206.89 289.67 L207.39 289.68 L207.88 289.68 L208.38 289.69 L208.87 289.70 L209.37 289.70 L209.86 289.71 L210.36 289.71 L210.85 289.72 L211.35 289.72 L211.84 289.73 L212.34 289.74 L212.83 289.74 L213.33 289.75 L213.82 289.75 L214.32 289.76 L214.81 289.77 L215.31 289.77 L215.80 289.78 L216.30 289.78 L216.79 289.79 L217.29 289.80 L217.78 289.80 L218.28 289.81 L218.77 289.82 L219.27 289.82 L219.76 289.83 L220.26 289.84 L220.75 289.84 L221.25 289.85 L221.75 289.86 L222.24 289.86 L222.74 289.87 L223.23 289.88 L223.73 289.88 L224.22 289.89 L224.72 289.90 L225.21 289.90 L225.71 289.91 L226.20 289.92 L226.70 289.93 L227.19 289.93 L227.69 289.94 L228.18 289.95 L228.68 289.96 L229.17 289.96 L229.67 289.97 L230.16 289.98 L230.66 289.99 L231.15 289.99 L231.65 290.00 L232.14 290.01 L232.64 290.02 L233.13 290.02 L233.63 290.03 L234.12 290.04 L234.62 290.05 L235.11 290.06 L235.61 290.06 L236.10 290.07 L236.60 290.08 L237.09 290.09 L237.59 290.10 L238.08 290.10 L238.58 290.11 L239.07 290.12 L239.57 290.13 L240.06 290.14 L240.56 290.15 L241.05 290.16 L241.55 290.16 L242.04 290.17 L242.54 290.18 L243.03 290.19 L243.53 290.20 L244.02 290.21 L244.52 290.22 L245.01 290.23 L245.51 290.24 L246.00 290.24 L246.50 290.25 L246.99 290.26 L247.49 290.27 L247.98 290.28 L248.48 290.29 L248.97 290.30 L249.47 290.31 L249.96 290.32 L250.46 290.33 L250.95 290.34 L251.45 290.35 L251.94 290.36 L252.44 290.37 L252.93 290.38 L253.43 290.39 L253.92 290.40 L254.42 290.41 L254.91 290.42 L255.41 290.43 L255.90 290.44 L256.40 290.45 L256.89 290.46 L257.39 290.47 L257.88 290.48 L258.38 290.49 L258.88 290.50 L259.37 290.51 L259.87 290.52 L260.36 290.53 L260.86 290.54 L261.35 290.55 L261.85 290.56 L262.34 290.57 L262.84 290.58 L263.33 290.59 L263.83 290.61 L264.32 290.62 L264.82 290.63 L265.31 290.64 L265.81 290.65 L266.30 290.66 L266.80 290.67 L267.29 290.68 L267.79 290.70 L268.28 290.71 L268.78 290.72 L269.27 290.73 L269.77 290.74 L270.26 290.75 L270.76 290.77 L271.25 290.78 L271.75 290.79 L272.24 290.80 L272.74 290.81 L273.23 290.82 L273.73 290.84 L274.22 290.85 L274.72 290.86 L275.21 290.87 L275.71 290.89 L276.20 290.90 L276.70 290.91 L277.19 290.92 L277.69 290.94 L278.18 290.95 L278.68 290.96 L279.17 290.97 L279.67 290.99 L280.16 291.00 L280.66 291.01 L281.15 291.03 L281.65 291.04 L282.14 291.05 L282.64 291.06 L283.13 291.08 L283.63 291.09 L284.12 291.10 L284.62 291.12 L285.11 291.13 L285.61 291.14 L286.10 291.16 L286.60 291.17 L287.09 291.19 L287.59 291.20 L288.08 291.21 L288.58 291.23 L289.07 291.24 L289.57 291.25 L290.06 291.27 L290.56 291.28 L291.05 291.30 L291.55 291.31 L292.04 291.33 L292.54 291.34 L293.03 291.35 L293.53 291.37 L294.02 291.38 L294.52 291.40 L295.02 291.41 L295.51 291.43 L296.01 291.44 L296.50 291.46 L297.00 291.47 L297.49 291.49 L297.99 291.50 L298.48 291.52 L298.98 291.53 L299.47 291.55 L299.97 291.56 L300.46 291.58 L300.96 291.59 L301.45 291.61 L301.95 291.62 L302.44 291.64 L302.94 291.65 L303.43 291.67 L303.93 291.69 L304.42 291.70 L304.92 291.72 L305.41 291.73 L305.91 291.75 L306.40 291.77 L306.90 291.78 L307.39 291.80 L307.89 291.81 L308.38 291.83 L308.88 291.85 L309.37 291.86 L309.87 291.88 L310.36 291.90 L310.86 291.91 L311.35 291.93 L311.85 291.95 L312.34 291.97 L312.84 291.98 L313.33 292.00 L313.83 292.02 L314.32 292.04 L314.82 292.05 L315.31 292.07 L315.81 292.09 L316.30 292.11 L316.80 292.12 L317.29 292.14 L317.79 292.16 L318.28 292.18 L318.78 292.20 L319.27 292.22 L319.77 292.24 L320.26 292.26 L320.76 292.28 L321.25 292.30 L321.75 292.32 L322.24 292.34 L322.74 292.36 L323.23 292.38 L323.73 292.40 L324.22 292.42 L324.72 292.44 L325.21 292.46 L325.71 292.48 L326.20 292.50 L326.70 292.52 L327.19 292.55 L327.69 292.57 L328.18 292.59 L328.68 292.61 L329.17 292.64 L329.67 292.66 L330.16 292.68 L330.66 292.71 L331.16 292.73 L331.65 292.76 L332.15 292.78 L332.64 292.80 L333.14 292.83 L333.63 292.86 L334.13 292.88 L334.62 292.91 L335.12 292.93 L335.61 292.96 L336.11 292.99 L336.60 293.01 L337.10 293.04 L337.59 293.07 L338.09 293.09 L338.58 293.12 L339.08 293.15 L339.57 293.18 L340.07 293.21 L340.56 293.24 L341.06 293.27 L341.55 293.30 L342.05 293.33 L342.54 293.36 L343.04 293.39 L343.53 293.42 L344.03 293.45 L344.52 293.49 L345.02 293.52 L345.51 293.55 L346.01 293.58 L346.50 293.62 L347.00 293.65 L347.49 293.69 L347.99 293.72 L348.48 293.76 L348.98 293.79 L349.47 293.83 L349.97 293.86 L350.46 293.90 L350.96 293.94 L351.45 293.98 L351.95 294.01 L352.44 294.05 L352.94 294.09 L353.43 294.13 L353.93 294.17 L354.42 294.21 L354.92 294.25 L355.41 294.29 L355.91 294.33 L356.40 294.37 L356.90 294.42 L357.39 294.46 L357.89 294.50 L358.38 294.54 L358.88 294.59 L359.37 294.63 L359.87 294.68 L360.36 294.72 L360.86 294.77 L361.35 294.82 L361.85 294.86 L362.34 294.91 L362.84 294.96 L363.33 295.01 L363.83 295.05 L364.32 295.10 L364.82 295.15 L365.31 295.20 L365.81 295.26 L366.30 295.31 L366.80 295.36 L367.29 295.41 L367.79 295.46 L368.29 295.52 L368.78 295.57 L369.28 295.63 L369.77 295.68 L370.27 295.74 L370.76 295.79 L371.26 295.85 L371.75 295.91 L372.25 295.97 L372.74 296.02 L373.24 296.08 L373.73 296.14 L374.23 296.20 L374.72 296.26 L375.22 296.32 L375.71 296.39 L376.21 296.45 L376.70 296.51 L377.20 296.57 L377.69 296.64 L378.19 296.70 L378.68 296.77 L379.18 296.83 L379.67 296.90 L380.17 296.97 L380.66 297.03 L381.16 297.10 L381.65 297.17 L382.15 297.24 L382.64 297.31 L383.14 297.38 L383.63 297.45 L384.13 297.52 L384.62 297.59 L385.12 297.67 L385.61 297.74 L386.11 297.81 L386.60 297.89 L387.10 297.96 L387.59 298.04 L388.09 298.11 L388.58 298.19 L389.08 298.27 L389.57 298.35 L390.07 298.42 L390.56 298.50 L391.06 298.58 L391.55 298.66 L392.05 298.74 L392.54 298.82 L393.04 298.91 L393.53 298.99 L394.03 299.07 L394.52 299.16 L395.02 299.24 L395.51 299.33 L396.01 299.41 L396.50 299.50 L397.00 299.58 L397.49 299.67 L397.99 299.76 L398.48 299.85 L398.98 299.94 L399.47 300.03 L399.97 300.12 L400.46 300.21 L400.96 300.30 L401.45 300.39 L401.95 300.48 L402.44 300.58 L402.94 300.67 L403.43 300.77 L403.93 300.86 L404.43 300.96 L404.92 301.05 L405.42 301.15 L405.91 301.25 L406.41 301.35 L406.90 301.45 L407.40 301.55 L407.89 301.65 L408.39 301.75 L408.88 301.85 L409.38 301.95 L409.87 302.05 L410.37 302.16 L410.86 302.26 L411.36 302.37 L411.85 302.47 L412.35 302.58 L412.84 302.68 L413.34 302.79 L413.83 302.90 L414.33 303.01 L414.82 303.12 L415.32 303.23 L415.81 303.34 L416.31 303.45 L416.80 303.56 L417.30 303.67 L417.79 303.79 L418.29 303.90 L418.78 304.01 L419.28 304.13 L419.77 304.24 L420.27 304.36 L420.76 304.48 L421.26 304.60 L421.75 304.71 L422.25 304.83 L422.74 304.95 L423.24 305.07 L423.73 305.19 L424.23 305.32 L424.72 305.44 L425.22 305.56 L425.71 305.68 L426.21 305.81 L426.70 305.93 L427.20 306.06 L427.69 306.18 L428.19 306.31 L428.68 306.44 L429.18 306.57 L429.67 306.70 L430.17 306.83 L430.66 306.96 L431.16 307.09 L431.65 307.22 L432.15 307.35 L432.64 307.48 L433.14 307.62 L433.63 307.75 L434.13 307.89 L434.62 308.02 L435.12 308.16 L435.61 308.30 L436.11 308.44 L436.60 308.57 L437.10 308.71 L437.59 308.85 L438.09 308.99 L438.58 309.13 L439.08 309.28 L439.57 309.42 L440.07 309.56 L440.57 309.71 L441.06 309.85 L441.56 310.00 L442.05 310.14 L442.55 310.29 L443.04 310.44 L443.54 310.59 L444.03 310.74 L444.53 310.89 L445.02 311.04 L445.52 311.19 L446.01 311.34 L446.51 311.49 L447.00 311.64 L447.50 311.80 L447.99 311.95 L448.49 312.11 L448.98 312.26 L449.48 312.42 L449.97 312.58 L450.47 312.74 L450.96 312.90 L451.46 313.06 L451.95 313.22 L452.45 313.38 L452.94 313.54 L453.44 313.70 L453.93 313.87 L454.43 314.03 L454.92 314.20 L455.42 314.36 L455.91 314.53 L456.41 314.69 L456.90 314.86 L457.40 315.03 L457.89 315.20 L458.39 315.37 L458.88 315.54 L459.38 315.71 L459.87 315.88 L460.37 316.06 L460.86 316.23 L461.36 316.41 L461.85 316.58 L462.35 316.76 L462.84 316.93 L463.34 317.11 L463.83 317.29 L464.33 317.47 L464.82 317.65 L465.32 317.83 L465.81 318.01 L466.31 318.19 L466.80 318.37 L467.30 318.56 L467.79 318.74 L468.29 318.93 L468.78 319.11 L469.28 319.30 L469.77 319.49 L470.27 319.67 L470.76 319.86 L471.26 320.05 L471.75 320.24 L472.25 320.43 L472.74 320.63 L473.24 320.82 L473.73 321.01 L474.23 321.21 L474.72 321.40 L475.22 321.60 L475.71 321.79 L476.21 321.99 L476.71 322.19 L477.20 322.39 L477.70 322.59 L478.19 322.79 L478.69 322.99 L479.18 323.19 L479.68 323.39 L480.17 323.60 L480.67 323.80 L481.16 324.01 L481.66 324.21 L482.15 324.42 L482.65 324.63 L483.14 324.84 L483.64 325.05 L484.13 325.26 L484.63 325.47 L485.12 325.68 L485.62 325.89 L486.11 326.10 L486.61 326.32 L487.10 326.53 L487.60 326.75 L488.09 326.96 L488.59 327.18 L489.08 327.40 L489.58 327.62 L490.07 327.84 L490.57 328.06 L491.06 328.28 L491.56 328.50 L492.05 328.72 L492.55 328.94 L493.04 329.16 L493.54 329.39 L494.03 329.61 L494.53 329.83 L495.02 330.06 L495.52 330.28 L496.01 330.51 L496.51 330.73 L497.00 330.95 L497.50 331.18 L497.99 331.40 L498.49 331.63 L498.98 331.85 L499.48 332.07 L499.97 332.30 L500.47 332.52 L500.96 332.74 L501.46 332.97 L501.95 333.19 L502.45 333.41 L502.94 333.63 L503.44 333.85 L503.93 334.07 L504.43 334.29 L504.92 334.51 L505.42 334.73 L505.91 334.94 L506.41 335.16 L506.90 335.37 L507.40 335.59 L507.89 335.80 L508.39 336.01 L508.88 336.23 L509.38 336.44 L509.87 336.64 L510.37 336.85 L510.86 337.06 L511.36 337.26 L511.85 337.47 L512.35 337.67 L512.84 337.87 L513.34 338.07 L513.84 338.27 L514.33 338.46 L514.83 338.66 L515.32 338.85 L515.82 339.04 L516.31 339.23 L516.81 339.42 L517.30 339.60 L517.80 339.79 L518.29 339.97 L518.79 340.15 L519.28 340.33 L519.78 340.50 L520.27 340.68 L520.77 340.85 L521.26 341.02 L521.76 341.18 L522.25 341.35 L522.75 341.51 L523.24 341.67 L523.74 341.83 L524.23 341.98 L524.73 342.13 L525.22 342.28 L525.72 342.43 L526.21 342.57 L526.71 342.71 L527.20 342.85 L527.70 342.99 L528.19 343.12 L528.69 343.25 L529.18 343.38 L529.68 343.50 L530.17 343.62 L530.67 343.74 L531.16 343.85 L531.66 343.96 L532.15 344.07 L532.65 344.18 L533.14 344.28 L533.64 344.37 L534.13 344.47 L534.63 344.56 L535.12 344.65 L535.62 344.73 L536.11 344.81 L536.61 344.89 L537.10 344.96 L537.60 345.03 L538.09 345.09 L538.59 345.15 L539.08 345.21 L539.58 345.26 L540.07 345.31 L540.57 345.36 L541.06 345.40 L541.56 345.43 L542.05 345.47 L542.55 345.49 L543.04 345.52 L543.54 345.54 L544.03 345.55 L544.53 345.56 L545.02 345.57 L545.52 345.57 L546.01 345.57 L546.51 345.56 L547.00 345.55 L547.50 345.53 L547.99 345.51 L548.49 345.49 L548.98 345.46 L549.48 345.42 L549.98 345.38 L550.47 345.34 L550.97 345.29 L551.46 345.24 L551.96 345.19 L552.45 345.13 L552.95 345.06 L553.44 344.99 L553.94 344.92 L554.43 344.84 L554.93 344.76 L555.42 344.67 L555.92 344.58 L556.41 344.49 L556.91 344.39 L557.40 344.29 L557.90 344.18 L558.39 344.07 L558.89 343.96 L559.38 343.84 L559.88 343.71 L560.37 343.58 L560.87 343.45 L561.36 343.32 L561.86 343.18 L562.35 343.03 L562.85 342.89 L563.34 342.73 L563.84 342.58 L564.33 342.42 L564.83 342.26 L565.32 342.09 L565.82 341.92 L566.31 341.74 L566.81 341.56 L567.30 341.38 L567.80 341.19 L568.29 341.00 L568.79 340.81 L569.28 340.61 L569.78 340.41 L570.27 340.20 L570.77 339.99 L571.26 339.78 L571.76 339.56 L572.25 339.34 L572.75 339.11 L573.24 338.89 L573.74 338.65 L574.23 338.42 L574.73 338.18 L575.22 337.94 L575.72 337.69 L576.21 337.44 L576.71 337.18 L577.20 336.93 L577.70 336.67 L578.19 336.40 L578.69 336.13 L579.18 335.86 L579.68 335.59 L580.17 335.31 L580.67 335.03 L581.16 334.74 L581.66 334.45 L582.15 334.16 L582.65 333.87 L583.14 333.57 L583.64 333.27 L584.13 332.96 L584.63 332.65 L585.12 332.34 L585.62 332.02 L586.12 331.71 L586.61 331.39 L587.11 331.06 L587.60 330.74 L588.10 330.41 L588.59 330.08 L589.09 329.74 L589.58 329.41 L590.08 329.07 L590.57 328.73 L591.07 328.39 L591.56 328.05 L592.06 327.70 L592.55 327.36 L593.05 327.01 L593.54 326.66 L594.04 326.31 L594.53 325.96 L595.03 325.60 L595.52 325.25 L596.02 324.90 L596.51 324.54 L597.01 324.19 L597.50 323.83 L598.00 323.47 L598.49 323.12 L598.99 322.76 L599.48 322.40 L599.98 322.05 L600.47 321.69 L600.97 321.33 L601.46 320.98 L601.96 320.62 L602.45 320.26 L602.95 319.91 L603.44 319.56 L603.94 319.20 L604.43 318.85 L604.93 318.50 L605.42 318.15 L605.92 317.80 L606.41 317.46 L606.91 317.11 L607.40 316.77 L607.90 316.43 L608.39 316.09 L608.89 315.75 L609.38 315.41 L609.88 315.08 L610.37 314.75 L610.87 314.42 L611.36 314.09 L611.86 313.76 L612.35 313.44 L612.85 313.12 L613.34 312.80 L613.84 312.48 L614.33 312.17 L614.83 311.86 L615.32 311.55 L615.82 311.24 L616.31 310.93 L616.81 310.63 L617.30 310.33 L617.80 310.03 L618.29 309.73 L618.79 309.43 L619.28 309.14 L619.78 308.85 L620.27 308.56 L620.77 308.27 L621.26 307.99 L621.76 307.71 L622.25 307.43 L622.75 307.15 L623.25 306.87 L623.74 306.60 L624.24 306.32 L624.73 306.05 L625.23 305.79 L625.72 305.52 L626.22 305.26 L626.71 305.00 L627.21 304.74 L627.70 304.48 L628.20 304.22 L628.69 303.97 L629.19 303.72 L629.68 303.47 L630.18 303.22 L630.67 302.98 L631.17 302.74 L631.66 302.50 L632.16 302.26 L632.65 302.02 L633.15 301.79 L633.64 301.55 L634.14 301.32 L634.63 301.10 L635.13 300.87 L635.62 300.65 L636.12 300.43 L636.61 300.21 L637.11 299.99 L637.60 299.77 L638.10 299.56 L638.59 299.35 L639.09 299.14 L639.58 298.93 L640.08 298.73 L640.57 298.53 L641.07 298.32 L641.56 298.13 L642.06 297.93 L642.55 297.73 L643.05 297.54 L643.54 297.35 L644.04 297.16 L644.53 296.98 L645.03 296.79 L645.52 296.61 L646.02 296.43 L646.51 296.25 L647.01 296.08 L647.50 295.90 L648.00 295.73 L648.49 295.56 L648.99 295.39 L649.48 295.23 L649.98 295.07 L650.47 294.90 L650.97 294.75 L651.46 294.59 L651.96 294.43 L652.45 294.28 L652.95 294.13 L653.44 293.98 L653.94 293.83 L654.43 293.69 L654.93 293.54 L655.42 293.40 L655.92 293.27 L656.41 293.13 L656.91 292.99 L657.40 292.86 L657.90 292.73 L658.39 292.60 L658.89 292.48 L659.39 292.35 L659.88 292.23 L660.38 292.11 L660.87 291.99 L661.37 291.87 L661.86 291.76 L662.36 291.65 L662.85 291.54 L663.35 291.43 L663.84 291.32 L664.34 291.22 L664.83 291.12 L665.33 291.02 L665.82 290.92 L666.32 290.82 L666.81 290.73 L667.31 290.64 L667.80 290.55 L668.30 290.46 L668.79 290.38 L669.29 290.29 L669.78 290.21 L670.28 290.13 L670.77 290.05 L671.27 289.98 L671.76 289.90 L672.26 289.83 L672.75 289.76 L673.25 289.69 L673.74 289.63 L674.24 289.56 L674.73 289.50 L675.23 289.44 L675.72 289.38 L676.22 289.32 L676.71 289.27 L677.21 289.21 L677.70 289.16 L678.20 289.11 L678.69 289.06 L679.19 289.01 L679.68 288.97 L680.18 288.93 L680.67 288.88 L681.17 288.84 L681.66 288.80 L682.16 288.77 L682.65 288.73 L683.15 288.70 L683.64 288.66 L684.14 288.63 L684.63 288.60 L685.13 288.57 L685.62 288.55 L686.12 288.52 L686.61 288.50 L687.11 288.47 L687.60 288.45 L688.10 288.43 L688.59 288.41 L689.09 288.39 L689.58 288.38 L690.08 288.36 L690.57 288.35 L691.07 288.33 L691.56 288.32 L692.06 288.31 L692.55 288.30 L693.05 288.29 L693.54 288.29 L694.04 288.28 L694.53 288.28 L695.03 288.27 L695.53 288.27 L696.02 288.27 L696.52 288.27 L697.01 288.27 L697.51 288.27 L698.00 288.27 L698.50 288.27 L698.99 288.28 L699.49 288.28 L699.98 288.29 L700.48 288.29 L700.97 288.30 L701.47 288.31 L701.96 288.32 L702.46 288.33 L702.95 288.34 L703.45 288.35 L703.94 288.36 L704.44 288.37 L704.93 288.39 L705.43 288.40 L705.92 288.42 L706.42 288.43 L706.91 288.45 L707.41 288.46 L707.90 288.48 L708.40 288.50 L708.89 288.51 L709.39 288.53 L709.88 288.55 L710.38 288.57 L710.87 288.59 L711.37 288.61 L711.86 288.63 L712.36 288.65 L712.85 288.68 L713.35 288.70 L713.84 288.72 L714.34 288.74 L714.83 288.77 L715.33 288.79 L715.82 288.81 L716.32 288.84 L716.81 288.86 L717.31 288.88 L717.80 288.91 L718.30 288.93 L718.79 288.96 L719.29 288.98 L719.78 289.01 L720.28 289.03 L720.77 289.06 L721.27 289.08 L721.76 289.11 L722.26 289.13 L722.75 289.16 L723.25 289.18 L723.74 289.21 L724.24 289.23 L724.73 289.26 L725.23 289.28 L725.72 289.31 L726.22 289.33 L726.71 289.36 L727.21 289.38 L727.70 289.40 L728.20 289.43 L728.69 289.45 L729.19 289.48 L729.68 289.50 L730.18 289.52 L730.67 289.54 L731.17 289.57 L731.66 289.59 L732.16 289.61 L732.66 289.63 L733.15 289.65 L733.65 289.67 L734.14 289.69 L734.64 289.71 L735.13 289.73 L735.63 289.75 L736.12 289.77 L736.62 289.79 L737.11 289.80 L737.61 289.82 L738.10 289.83 L738.60 289.85 L739.09 289.86 L739.59 289.88 L740.08 289.89 L740.58 289.90 L741.07 289.92 L741.57 289.93 L742.06 289.94 L742.56 289.95 L743.05 289.96 L743.55 289.97 L744.04 289.97 L744.54 289.98 L745.03 289.99 L745.53 289.99 L746.02 289.99 L746.52 290.00 L747.01 290.00 L747.51 290.00 L748.00 290.00 L748.50 290.00 L748.99 290.00 L749.49 290.00 L749.98 289.99 L750.48 289.99 L750.97 289.98 L751.47 289.97 L751.96 289.97 L752.46 289.96 L752.95 289.95 L753.45 289.94 L753.94 289.92 L754.44 289.91 L754.93 289.89 L755.43 289.88 L755.92 289.86 L756.42 289.84 L756.91 289.82 L757.41 289.80 L757.90 289.78 L758.40 289.75 L758.89 289.73 L759.39 289.70 L759.88 289.67 L760.38 289.64 L760.87 289.61 L761.37 289.58 L761.86 289.55 L762.36 289.51 L762.85 289.47 L763.35 289.43 L763.84 289.39 L764.34 289.35 L764.83 289.31 L765.33 289.26 L765.82 289.22 L766.32 289.17 L766.81 289.12 L767.31 289.07 L767.80 289.01 L768.30 288.96" stroke="#ff0000" stroke-dasharray="1.5686,4.7058,10.9802,4.7058" stroke-dashoffset="0.40"/>
<path d="M75.70 289.48 L76.20 289.46 L76.69 289.45 L77.19 289.44 L77.68 289.43 L78.18 289.42 L78.67 289.41 L79.17 289.39 L79.66 289.38 L80.16 289.37 L80.65 289.36 L81.15 289.35 L81.64 289.34 L82.14 289.33 L82.63 289.32 L83.13 289.31 L83.62 289.30 L84.12 289.29 L84.61 289.28 L85.11 289.27 L85.60 289.26 L86.10 289.25 L86.59 289.24 L87.09 289.23 L87.58 289.22 L88.08 289.21 L88.57 289.20 L89.07 289.19 L89.56 289.18 L90.06 289.17 L90.55 289.17 L91.05 289.16 L91.54 289.15 L92.04 289.14 L92.53 289.13 L93.03 289.12 L93.52 289.12 L94.02 289.11 L94.51 289.10 L95.01 289.09 L95.50 289.09 L96.00 289.08 L96.49 289.07 L96.99 289.06 L97.48 289.06 L97.98 289.05 L98.47 289.04 L98.97 289.04 L99.46 289.03 L99.96 289.02 L100.45 289.02 L100.95 289.01 L101.44 289.00 L101.94 289.00 L102.43 288.99 L102.93 288.98 L103.42 288.98 L103.92 288.97 L104.41 288.97 L104.91 288.96 L105.40 288.96 L105.90 288.95 L106.39 288.94 L106.89 288.94 L107.38 288.93 L107.88 288.93 L108.37 288.92 L108.87 288.92 L109.36 288.91 L109.86 288.91 L110.35 288.91 L110.85 288.90 L111.34 288.90 L111.84 288.89 L112.34 288.89 L112.83 288.88 L113.33 288.88 L113.82 288.88 L114.32 288.87 L114.81 288.87 L115.31 288.86 L115.80 288.86 L116.30 288.86 L116.79 288.85 L117.29 288.85 L117.78 288.85 L118.28 288.84 L118.77 288.84 L119.27 288.84 L119.76 288.83 L120.26 288.83 L120.75 288.83 L121.25 288.83 L121.74 288.82 L122.24 288.82 L122.73 288.82 L123.23 288.82 L123.72 288.81 L124.22 288.81 L124.71 288.81 L125.21 288.81 L125.70 288.81 L126.20 288.80 L126.69 288.80 L127.19 288.80 L127.68 288.80 L128.18 288.80 L128.67 288.79 L129.17 288.79 L129.66 288.79 L130.16 288.79 L130.65 288.79 L131.15 288.79 L131.64 288.79 L132.14 288.79 L132.63 288.78 L133.13 288.78 L133.62 288.78 L134.12 288.78 L134.61 288.78 L135.11 288.78 L135.60 288.78 L136.10 288.78 L136.59 288.78 L137.09 288.78 L137.58 288.78 L138.08 288.78 L138.57 288.78 L139.07 288.78 L139.56 288.78 L140.06 288.78 L140.55 288.78 L141.05 288.78 L141.54 288.78 L142.04 288.78 L142.53 288.78 L143.03 288.78 L143.52 288.78 L144.02 288.78 L144.51 288.78 L145.01 288.78 L145.50 288.78 L146.00 288.78 L146.49 288.78 L146.99 288.78 L147.48 288.78 L147.98 288.78 L148.47 288.78 L148.97 288.79 L149.47 288.79 L149.96 288.79 L150.46 288.79 L150.95 288.79 L151.45 288.79 L151.94 288.79 L152.44 288.79 L152.93 288.79 L153.43 288.80 L153.92 288.80 L154.42 288.80 L154.91 288.80 L155.41 288.80 L155.90 288.80 L156.40 288.80 L156.89 288.81 L157.39 288.81 L157.88 288.81 L158.38 288.81 L158.87 288.81 L159.37 288.82 L159.86 288.82 L160.36 288.82 L160.85 288.82 L161.35 288.82 L161.84 288.83 L162.34 288.83 L162.83 288.83 L163.33 288.83 L163.82 288.83 L164.32 288.84 L164.81 288.84 L165.31 288.84 L165.80 288.84 L166.30 288.85 L166.79 288.85 L167.29 288.85 L167.78 288.85 L168.28 288.86 L168.77 288.86 L169.27 288.86 L169.76 288.86 L170.26 288.87 L170.75 288.87 L171.25 288.87 L171.74 288.87 L172.24 288.88 L172.73 288.88 L173.23 288.88 L173.72 288.88 L174.22 288.89 L174.71 288.89 L175.21 288.89 L175.70 288.90 L176.20 288.90 L176.69 288.90 L177.19 288.90 L177.68 288.91 L178.18 288.91 L178.67 288.91 L179.17 288.92 L179.66 288.92 L180.16 288.92 L180.65 288.93 L181.15 288.93 L181.64 288.93 L182.14 288.94 L182.63 288.94 L183.13 288.94 L183.62 288.95 L184.12 288.95 L184.61 288.95 L185.11 288.95 L185.61 288.96 L186.10 288.96 L186.60 288.96 L187.09 288.97 L187.59 288.97 L188.08 288.97 L188.58 288.98 L189.07 288.98 L189.57 288.98 L190.06 288.99 L190.56 288.99 L191.05 288.99 L191.55 289.00 L192.04 289.00 L192.54 289.00 L193.03 289.01 L193.53 289.01 L194.02 289.01 L194.52 289.02 L195.01 289.02 L195.51 289.02 L196.00 289.03 L196.50 289.03 L196.99 289.03 L197.49 289.04 L197.98 289.04 L198.48 289.05 L198.97 289.05 L199.47 289.05 L199.96 289.06 L200.46 289.06 L200.95 289.06 L201.45 289.07 L201.94 289.07 L202.44 289.07 L202.93 289.08 L203.43 289.08 L203.92 289.08 L204.42 289.09 L204.91 289.09 L205.41 289.09 L205.90 289.10 L206.40 289.10 L206.89 289.10 L207.39 289.11 L207.88 289.11 L208.38 289.11 L208.87 289.11 L209.37 289.12 L209.86 289.12 L210.36 289.12 L210.85 289.13 L211.35 289.13 L211.84 289.13 L212.34 289.14 L212.83 289.14 L213.33 289.14 L213.82 289.15 L214.32 289.15 L214.81 289.15 L215.31 289.16 L215.80 289.16 L216.30 289.16 L216.79 289.16 L217.29 289.17 L217.78 289.17 L218.28 289.17 L218.77 289.18 L219.27 289.18 L219.76 289.18 L220.26 289.19 L220.75 289.19 L221.25 289.19 L221.75 289.19 L222.24 289.20 L222.74 289.20 L223.23 289.20 L223.73 289.20 L224.22 289.21 L224.72 289.21 L225.21 289.21 L225.71 289.21 L226.20 289.22 L226.70 289.22 L227.19 289.22 L227.69 289.22 L228.18 289.23 L228.68 289.23 L229.17 289.23 L229.67 289.23 L230.16 289.24 L230.66 289.24 L231.15 289.24 L231.65 289.24 L232.14 289.24 L232.64 289.25 L233.13 289.25 L233.63 289.25 L234.12 289.25 L234.62 289.25 L235.11 289.26 L235.61 289.26 L236.10 289.26 L236.60 289.26 L237.09 289.26 L237.59 289.27 L238.08 289.27 L238.58 289.27 L239.07 289.27 L239.57 289.27 L240.06 289.27 L240.56 289.27 L241.05 289.28 L241.55 289.28 L242.04 289.28 L242.54 289.28 L243.03 289.28 L243.53 289.28 L244.02 289.28 L244.52 289.28 L245.01 289.28 L245.51 289.29 L246.00 289.29 L246.50 289.29 L246.99 289.29 L247.49 289.29 L247.98 289.29 L248.48 289.29 L248.97 289.29 L249.47 289.29 L249.96 289.29 L250.46 289.29 L250.95 289.29 L251.45 289.29 L251.94 289.29 L252.44 289.29 L252.93 289.29 L253.43 289.29 L253.92 289.29 L254.42 289.29 L254.91 289.29 L255.41 289.29 L255.90 289.29 L256.40 289.29 L256.89 289.29 L257.39 289.29 L257.88 289.29 L258.38 289.29 L258.88 289.29 L259.37 289.29 L259.87 289.29 L260.36 289.29 L260.86 289.29 L261.35 289.29 L261.85 289.28 L262.34 289.28 L262.84 289.28 L263.33 289.28 L263.83 289.28 L264.32 289.28 L264.82 289.28 L265.31 289.28 L265.81 289.27 L266.30 289.27 L266.80 289.27 L267.29 289.27 L267.79 289.27 L268.28 289.26 L268.78 289.26 L269.27 289.26 L269.77 289.26 L270.26 289.26 L270.76 289.25 L271.25 289.25 L271.75 289.25 L272.24 289.25 L272.74 289.24 L273.23 289.24 L273.73 289.24 L274.22 289.24 L274.72 289.23 L275.21 289.23 L275.71 289.23 L276.20 289.22 L276.70 289.22 L277.19 289.22 L277.69 289.21 L278.18 289.21 L278.68 289.21 L279.17 289.20 L279.67 289.20 L280.16 289.19 L280.66 289.19 L281.15 289.19 L281.65 289.18 L282.14 289.18 L282.64 289.17 L283.13 289.17 L283.63 289.16 L284.12 289.16 L284.62 289.16 L285.11 289.15 L285.61 289.15 L286.10 289.14 L286.60 289.14 L287.09 289.13 L287.59 289.12 L288.08 289.12 L288.58 289.11 L289.07 289.11 L289.57 289.10 L290.06 289.10 L290.56 289.09 L291.05 289.09 L291.55 289.08 L292.04 289.07 L292.54 289.07 L293.03 289.06 L293.53 289.05 L294.02 289.05 L294.52 289.04 L295.02 289.03 L295.51 289.03 L296.01 289.02 L296.50 289.01 L297.00 289.01 L297.49 289.00 L297.99 288.99 L298.48 288.98 L298.98 288.98 L299.47 288.97 L299.97 288.96 L300.46 288.95 L300.96 288.95 L301.45 288.94 L301.95 288.93 L302.44 288.92 L302.94 288.91 L303.43 288.90 L303.93 288.90 L304.42 288.89 L304.92 288.88 L305.41 288.87 L305.91 288.86 L306.40 288.85 L306.90 288.84 L307.39 288.83 L307.89 288.82 L308.38 288.81 L308.88 288.80 L309.37 288.79 L309.87 288.78 L310.36 288.77 L310.86 288.76 L311.35 288.75 L311.85 288.74 L312.34 288.73 L312.84 288.72 L313.33 288.71 L313.83 288.70 L314.32 288.69 L314.82 288.68 L315.31 288.66 L315.81 288.65 L316.30 288.64 L316.80 288.63 L317.29 288.62 L317.79 288.61 L318.28 288.59 L318.78 288.58 L319.27 288.57 L319.77 288.56 L320.26 288.54 L320.76 288.53 L321.25 288.52 L321.75 288.50 L322.24 288.49 L322.74 288.48 L323.23 288.46 L323.73 288.45 L324.22 288.44 L324.72 288.42 L325.21 288.41 L325.71 288.40 L326.20 288.38 L326.70 288.37 L327.19 288.35 L327.69 288.34 L328.18 288.32 L328.68 288.31 L329.17 288.29 L329.67 288.28 L330.16 288.26 L330.66 288.25 L331.16 288.23 L331.65 288.22 L332.15 288.20 L332.64 288.18 L333.14 288.17 L333.63 288.15 L334.13 288.14 L334.62 288.12 L335.12 288.10 L335.61 288.09 L336.11 288.07 L336.60 288.05 L337.10 288.03 L337.59 288.02 L338.09 288.00 L338.58 287.98 L339.08 287.96 L339.57 287.94 L340.07 287.93 L340.56 287.91 L341.06 287.89 L341.55 287.87 L342.05 287.85 L342.54 287.83 L343.04 287.81 L343.53 287.79 L344.03 287.78 L344.52 287.76 L345.02 287.74 L345.51 287.72 L346.01 287.70 L346.50 287.68 L347.00 287.66 L347.49 287.64 L347.99 287.61 L348.48 287.59 L348.98 287.57 L349.47 287.55 L349.97 287.53 L350.46 287.51 L350.96 287.49 L351.45 287.47 L351.95 287.44 L352.44 287.42 L352.94 287.40 L353.43 287.38 L353.93 287.35 L354.42 287.33 L354.92 287.31 L355.41 287.29 L355.91 287.26 L356.40 287.24 L356.90 287.22 L357.39 287.19 L357.89 287.17 L358.38 287.14 L358.88 287.12 L359.37 287.10 L359.87 287.07 L360.36 287.05 L360.86 287.02 L361.35 287.00 L361.85 286.97 L362.34 286.95 L362.84 286.92 L363.33 286.90 L363.83 286.87 L364.32 286.85 L364.82 286.82 L365.31 286.80 L365.81 286.77 L366.30 286.75 L366.80 286.72 L367.29 286.70 L367.79 286.67 L368.29 286.65 L368.78 286.62 L369.28 286.60 L369.77 286.57 L370.27 286.55 L370.76 286.52 L371.26 286.49 L371.75 286.47 L372.25 286.44 L372.74 286.42 L373.24 286.39 L373.73 286.37 L374.23 286.34 L374.72 286.32 L375.22 286.29 L375.71 286.26 L376.21 286.24 L376.70 286.21 L377.20 286.19 L377.69 286.16 L378.19 286.14 L378.68 286.11 L379.18 286.09 L379.67 286.06 L380.17 286.04 L380.66 286.01 L381.16 285.99 L381.65 285.96 L382.15 285.94 L382.64 285.92 L383.14 285.89 L383.63 285.87 L384.13 285.84 L384.62 285.82 L385.12 285.80 L385.61 285.77 L386.11 285.75 L386.60 285.73 L387.10 285.70 L387.59 285.68 L388.09 285.66 L388.58 285.63 L389.08 285.61 L389.57 285.59 L390.07 285.57 L390.56 285.54 L391.06 285.52 L391.55 285.50 L392.05 285.48 L392.54 285.46 L393.04 285.44 L393.53 285.41 L394.03 285.39 L394.52 285.37 L395.02 285.35 L395.51 285.33 L396.01 285.31 L396.50 285.29 L397.00 285.27 L397.49 285.25 L397.99 285.24 L398.48 285.22 L398.98 285.20 L399.47 285.18 L399.97 285.16 L400.46 285.14 L400.96 285.13 L401.45 285.11 L401.95 285.09 L402.44 285.08 L402.94 285.06 L403.43 285.04 L403.93 285.03 L404.43 285.01 L404.92 285.00 L405.42 284.98 L405.91 284.97 L406.41 284.95 L406.90 284.94 L407.40 284.93 L407.89 284.91 L408.39 284.90 L408.88 284.89 L409.38 284.88 L409.87 284.86 L410.37 284.85 L410.86 284.84 L411.36 284.83 L411.85 284.82 L412.35 284.81 L412.84 284.80 L413.34 284.79 L413.83 284.78 L414.33 284.77 L414.82 284.77 L415.32 284.76 L415.81 284.75 L416.31 284.74 L416.80 284.74 L417.30 284.73 L417.79 284.73 L418.29 284.72 L418.78 284.72 L419.28 284.71 L419.77 284.71 L420.27 284.70 L420.76 284.70 L421.26 284.70 L421.75 284.70 L422.25 284.70 L422.74 284.69 L423.24 284.69 L423.73 284.69 L424.23 284.69 L424.72 284.70 L425.22 284.70 L425.71 284.70 L426.21 284.70 L426.70 284.70 L427.20 284.71 L427.69 284.71 L428.19 284.72 L428.68 284.72 L429.18 284.73 L429.67 284.73 L430.17 284.74 L430.66 284.75 L431.16 284.75 L431.65 284.76 L432.15 284.77 L432.64 284.78 L433.14 284.79 L433.63 284.80 L434.13 284.81 L434.62 284.82 L435.12 284.83 L435.61 284.85 L436.11 284.86 L436.60 284.87 L437.10 284.89 L437.59 284.90 L438.09 284.92 L438.58 284.94 L439.08 284.95 L439.57 284.97 L440.07 284.99 L440.57 285.01 L441.06 285.03 L441.56 285.05 L442.05 285.07 L442.55 285.09 L443.04 285.11 L443.54 285.14 L444.03 285.16 L444.53 285.18 L445.02 285.21 L445.52 285.24 L446.01 285.26 L446.51 285.29 L447.00 285.32 L447.50 285.35 L447.99 285.38 L448.49 285.41 L448.98 285.45 L449.48 285.48 L449.97 285.52 L450.47 285.55 L450.96 285.59 L451.46 285.63 L451.95 285.67 L452.45 285.71 L452.94 285.75 L453.44 285.80 L453.93 285.84 L454.43 285.89 L454.92 285.94 L455.42 285.99 L455.91 286.04 L456.41 286.09 L456.90 286.15 L457.40 286.20 L457.89 286.26 L458.39 286.32 L458.88 286.38 L459.38 286.45 L459.87 286.51 L460.37 286.58 L460.86 286.65 L461.36 286.72 L461.85 286.79 L462.35 286.86 L462.84 286.94 L463.34 287.02 L463.83 287.10 L464.33 287.18 L464.82 287.26 L465.32 287.35 L465.81 287.44 L466.31 287.53 L466.80 287.62 L467.30 287.71 L467.79 287.81 L468.29 287.91 L468.78 288.01 L469.28 288.12 L469.77 288.22 L470.27 288.33 L470.76 288.44 L471.26 288.56 L471.75 288.68 L472.25 288.79 L472.74 288.92 L473.24 289.04 L473.73 289.17 L474.23 289.30 L474.72 289.43 L475.22 289.56 L475.71 289.70 L476.21 289.84 L476.71 289.99 L477.20 290.13 L477.70 290.28 L478.19 290.43 L478.69 290.59 L479.18 290.75 L479.68 290.91 L480.17 291.07 L480.67 291.24 L481.16 291.41 L481.66 291.58 L482.15 291.76 L482.65 291.94 L483.14 292.12 L483.64 292.31 L484.13 292.50 L484.63 292.69 L485.12 292.89 L485.62 293.09 L486.11 293.29 L486.61 293.50 L487.10 293.71 L487.60 293.92 L488.09 294.14 L488.59 294.36 L489.08 294.59 L489.58 294.82 L490.07 295.05 L490.57 295.28 L491.06 295.52 L491.56 295.77 L492.05 296.01 L492.55 296.26 L493.04 296.52 L493.54 296.78 L494.03 297.04 L494.53 297.31 L495.02 297.58 L495.52 297.85 L496.01 298.13 L496.51 298.41 L497.00 298.70 L497.50 298.99 L497.99 299.28 L498.49 299.58 L498.98 299.88 L499.48 300.19 L499.97 300.50 L500.47 300.81 L500.96 301.13 L501.46 301.44 L501.95 301.77 L502.45 302.09 L502.94 302.42 L503.44 302.75 L503.93 303.08 L504.43 303.41 L504.92 303.75 L505.42 304.09 L505.91 304.43 L506.41 304.78 L506.90 305.12 L507.40 305.47 L507.89 305.82 L508.39 306.17 L508.88 306.52 L509.38 306.88 L509.87 307.23 L510.37 307.59 L510.86 307.95 L511.36 308.31 L511.85 308.67 L512.35 309.03 L512.84 309.39 L513.34 309.75 L513.84 310.11 L514.33 310.47 L514.83 310.84 L515.32 311.20 L515.82 311.57 L516.31 311.93 L516.81 312.29 L517.30 312.66 L517.80 313.02 L518.29 313.38 L518.79 313.74 L519.28 314.10 L519.78 314.46 L520.27 314.82 L520.77 315.18 L521.26 315.54 L521.76 315.90 L522.25 316.25 L522.75 316.61 L523.24 316.96 L523.74 317.31 L524.23 317.66 L524.73 318.01 L525.22 318.35 L525.72 318.70 L526.21 319.04 L526.71 319.38 L527.20 319.72 L527.70 320.05 L528.19 320.39 L528.69 320.72 L529.18 321.04 L529.68 321.37 L530.17 321.69 L530.67 322.01 L531.16 322.32 L531.66 322.63 L532.15 322.94 L532.65 323.25 L533.14 323.55 L533.64 323.85 L534.13 324.14 L534.63 324.44 L535.12 324.72 L535.62 325.01 L536.11 325.28 L536.61 325.56 L537.10 325.83 L537.60 326.09 L538.09 326.36 L538.59 326.61 L539.08 326.86 L539.58 327.11 L540.07 327.35 L540.57 327.59 L541.06 327.82 L541.56 328.05 L542.05 328.27 L542.55 328.49 L543.04 328.70 L543.54 328.90 L544.03 329.10 L544.53 329.29 L545.02 329.48 L545.52 329.66 L546.01 329.83 L546.51 330.00 L547.00 330.16 L547.50 330.32 L547.99 330.47 L548.49 330.61 L548.98 330.75 L549.48 330.88 L549.98 331.00 L550.47 331.12 L550.97 331.23 L551.46 331.33 L551.96 331.42 L552.45 331.51 L552.95 331.59 L553.44 331.67 L553.94 331.73 L554.43 331.79 L554.93 331.84 L555.42 331.89 L555.92 331.92 L556.41 331.95 L556.91 331.97 L557.40 331.99 L557.90 331.99 L558.39 331.99 L558.89 331.98 L559.38 331.96 L559.88 331.94 L560.37 331.90 L560.87 331.86 L561.36 331.80 L561.86 331.74 L562.35 331.68 L562.85 331.60 L563.34 331.51 L563.84 331.42 L564.33 331.31 L564.83 331.20 L565.32 331.08 L565.82 330.95 L566.31 330.81 L566.81 330.66 L567.30 330.50 L567.80 330.33 L568.29 330.15 L568.79 329.96 L569.28 329.77 L569.78 329.56 L570.27 329.35 L570.77 329.12 L571.26 328.88 L571.76 328.64 L572.25 328.38 L572.75 328.11 L573.24 327.84 L573.74 327.55 L574.23 327.25 L574.73 326.95 L575.22 326.63 L575.72 326.30 L576.21 325.96 L576.71 325.62 L577.20 325.26 L577.70 324.89 L578.19 324.52 L578.69 324.13 L579.18 323.74 L579.68 323.34 L580.17 322.92 L580.67 322.50 L581.16 322.07 L581.66 321.64 L582.15 321.19 L582.65 320.74 L583.14 320.28 L583.64 319.81 L584.13 319.33 L584.63 318.85 L585.12 318.35 L585.62 317.85 L586.12 317.35 L586.61 316.84 L587.11 316.32 L587.60 315.79 L588.10 315.26 L588.59 314.72 L589.09 314.17 L589.58 313.62 L590.08 313.06 L590.57 312.50 L591.07 311.93 L591.56 311.35 L592.06 310.77 L592.55 310.19 L593.05 309.60 L593.54 309.00 L594.04 308.40 L594.53 307.79 L595.03 307.18 L595.52 306.57 L596.02 305.95 L596.51 305.33 L597.01 304.70 L597.50 304.07 L598.00 303.44 L598.49 302.80 L598.99 302.16 L599.48 301.52 L599.98 300.87 L600.47 300.22 L600.97 299.57 L601.46 298.92 L601.96 298.26 L602.45 297.61 L602.95 296.95 L603.44 296.29 L603.94 295.63 L604.43 294.97 L604.93 294.31 L605.42 293.64 L605.92 292.98 L606.41 292.32 L606.91 291.66 L607.40 290.99 L607.90 290.33 L608.39 289.67 L608.89 289.01 L609.38 288.35 L609.88 287.69 L610.37 287.04 L610.87 286.38 L611.36 285.73 L611.86 285.08 L612.35 284.44 L612.85 283.79 L613.34 283.15 L613.84 282.51 L614.33 281.87 L614.83 281.24 L615.32 280.61 L615.82 279.99 L616.31 279.37 L616.81 278.75 L617.30 278.14 L617.80 277.53 L618.29 276.93 L618.79 276.33 L619.28 275.74 L619.78 275.15 L620.27 274.57 L620.77 274.00 L621.26 273.43 L621.76 272.87 L622.25 272.31 L622.75 271.76 L623.25 271.22 L623.74 270.68 L624.24 270.16 L624.73 269.64 L625.23 269.12 L625.72 268.62 L626.22 268.12 L626.71 267.63 L627.21 267.15 L627.70 266.68 L628.20 266.22 L628.69 265.77 L629.19 265.33 L629.68 264.89 L630.18 264.47 L630.67 264.05 L631.17 263.65 L631.66 263.26 L632.16 262.88 L632.65 262.50 L633.15 262.14 L633.64 261.79 L634.14 261.45 L634.63 261.13 L635.13 260.81 L635.62 260.50 L636.12 260.21 L636.61 259.92 L637.11 259.65 L637.60 259.38 L638.10 259.13 L638.59 258.88 L639.09 258.65 L639.58 258.42 L640.08 258.21 L640.57 258.00 L641.07 257.81 L641.56 257.62 L642.06 257.44 L642.55 257.28 L643.05 257.12 L643.54 256.97 L644.04 256.83 L644.53 256.69 L645.03 256.57 L645.52 256.46 L646.02 256.35 L646.51 256.25 L647.01 256.16 L647.50 256.08 L648.00 256.00 L648.49 255.94 L648.99 255.88 L649.48 255.83 L649.98 255.79 L650.47 255.75 L650.97 255.72 L651.46 255.70 L651.96 255.69 L652.45 255.68 L652.95 255.68 L653.44 255.69 L653.94 255.70 L654.43 255.72 L654.93 255.75 L655.42 255.79 L655.92 255.83 L656.41 255.87 L656.91 255.92 L657.40 255.98 L657.90 256.05 L658.39 256.12 L658.89 256.19 L659.39 256.27 L659.88 256.36 L660.38 256.45 L660.87 256.55 L661.37 256.65 L661.86 256.76 L662.36 256.87 L662.85 256.99 L663.35 257.11 L663.84 257.24 L664.34 257.37 L664.83 257.51 L665.33 257.65 L665.82 257.79 L666.32 257.94 L666.81 258.10 L667.31 258.25 L667.80 258.41 L668.30 258.58 L668.79 258.75 L669.29 258.92 L669.78 259.09 L670.28 259.27 L670.77 259.45 L671.27 259.63 L671.76 259.82 L672.26 260.01 L672.75 260.20 L673.25 260.40 L673.74 260.60 L674.24 260.80 L674.73 261.00 L675.23 261.20 L675.72 261.41 L676.22 261.62 L676.71 261.83 L677.21 262.04 L677.70 262.26 L678.20 262.47 L678.69 262.69 L679.19 262.91 L679.68 263.13 L680.18 263.35 L680.67 263.57 L681.17 263.80 L681.66 264.02 L682.16 264.24 L682.65 264.47 L683.15 264.70 L683.64 264.92 L684.14 265.15 L684.63 265.38 L685.13 265.60 L685.62 265.83 L686.12 266.06 L686.61 266.28 L687.11 266.51 L687.60 266.74 L688.10 266.96 L688.59 267.19 L689.09 267.41 L689.58 267.64 L690.08 267.86 L690.57 268.09 L691.07 268.31 L691.56 268.54 L692.06 268.76 L692.55 268.98 L693.05 269.21 L693.54 269.43 L694.04 269.65 L694.53 269.87 L695.03 270.09 L695.53 270.31 L696.02 270.53 L696.52 270.75 L697.01 270.97 L697.51 271.19 L698.00 271.41 L698.50 271.63 L698.99 271.84 L699.49 272.06 L699.98 272.28 L700.48 272.49 L700.97 272.71 L701.47 272.92 L701.96 273.13 L702.46 273.34 L702.95 273.56 L703.45 273.77 L703.94 273.98 L704.44 274.18 L704.93 274.39 L705.43 274.60 L705.92 274.81 L706.42 275.01 L706.91 275.22 L707.41 275.42 L707.90 275.63 L708.40 275.83 L708.89 276.03 L709.39 276.23 L709.88 276.43 L710.38 276.63 L710.87 276.82 L711.37 277.02 L711.86 277.22 L712.36 277.41 L712.85 277.60 L713.35 277.79 L713.84 277.99 L714.34 278.18 L714.83 278.36 L715.33 278.55 L715.82 278.74 L716.32 278.92 L716.81 279.11 L717.31 279.29 L717.80 279.47 L718.30 279.65 L718.79 279.83 L719.29 280.01 L719.78 280.18 L720.28 280.36 L720.77 280.53 L721.27 280.70 L721.76 280.87 L722.26 281.04 L722.75 281.21 L723.25 281.38 L723.74 281.54 L724.24 281.71 L724.73 281.87 L725.23 282.03 L725.72 282.19 L726.22 282.35 L726.71 282.50 L727.21 282.66 L727.70 282.81 L728.20 282.96 L728.69 283.11 L729.19 283.26 L729.68 283.40 L730.18 283.55 L730.67 283.69 L731.17 283.83 L731.66 283.97 L732.16 284.11 L732.66 284.25 L733.15 284.38 L733.65 284.51 L734.14 284.64 L734.64 284.77 L735.13 284.90 L735.63 285.02 L736.12 285.15 L736.62 285.27 L737.11 285.39 L737.61 285.51 L738.10 285.62 L738.60 285.73 L739.09 285.85 L739.59 285.96 L740.08 286.06 L740.58 286.17 L741.07 286.27 L741.57 286.37 L742.06 286.47 L742.56 286.57 L743.05 286.66 L743.55 286.76 L744.04 286.85 L744.54 286.94 L745.03 287.02 L745.53 287.11 L746.02 287.19 L746.52 287.27 L747.01 287.35 L747.51 287.42 L748.00 287.49 L748.50 287.56 L748.99 287.63 L749.49 287.70 L749.98 287.76 L750.48 287.82 L750.97 287.88 L751.47 287.94 L751.96 287.99 L752.46 288.04 L752.95 288.09 L753.45 288.14 L753.94 288.18 L754.44 288.23 L754.93 288.26 L755.43 288.30 L755.92 288.33 L756.42 288.37 L756.91 288.39 L757.41 288.42 L757.90 288.44 L758.40 288.46 L758.89 288.48 L759.39 288.50 L759.88 288.51 L760.38 288.52 L760.87 288.53 L761.37 288.53 L761.86 288.53 L762.36 288.53 L762.85 288.53 L763.35 288.52 L763.84 288.51 L764.34 288.50 L764.83 288.49 L765.33 288.47 L765.82 288.45 L766.32 288.42 L766.81 288.40 L767.31 288.37 L767.80 288.33 L768.30 288.30" stroke="#000" stroke-dasharray="1.5735,4.7205" stroke-dashoffset="-0.30"/>
<path d="M75.70 290.36 L76.20 290.37 L76.69 290.37 L77.19 290.38 L77.68 290.39 L78.18 290.39 L78.67 290.40 L79.17 290.40 L79.66 290.41 L80.16 290.42 L80.65 290.43 L81.15 290.43 L81.64 290.44 L82.14 290.45 L82.63 290.45 L83.13 290.46 L83.62 290.47 L84.12 290.48 L84.61 290.49 L85.11 290.49 L85.60 290.50 L86.10 290.51 L86.59 290.52 L87.09 290.53 L87.58 290.54 L88.08 290.55 L88.57 290.55 L89.07 290.56 L89.56 290.57 L90.06 290.58 L90.55 290.59 L91.05 290.60 L91.54 290.61 L92.04 290.62 L92.53 290.63 L93.03 290.64 L93.52 290.65 L94.02 290.66 L94.51 290.67 L95.01 290.68 L95.50 290.70 L96.00 290.71 L96.49 290.72 L96.99 290.73 L97.48 290.74 L97.98 290.75 L98.47 290.76 L98.97 290.78 L99.46 290.79 L99.96 290.80 L100.45 290.81 L100.95 290.83 L101.44 290.84 L101.94 290.85 L102.43 290.86 L102.93 290.88 L103.42 290.89 L103.92 290.90 L104.41 290.92 L104.91 290.93 L105.40 290.94 L105.90 290.96 L106.39 290.97 L106.89 290.99 L107.38 291.00 L107.88 291.02 L108.37 291.03 L108.87 291.05 L109.36 291.06 L109.86 291.08 L110.35 291.09 L110.85 291.11 L111.34 291.12 L111.84 291.14 L112.34 291.16 L112.83 291.17 L113.33 291.19 L113.82 291.21 L114.32 291.22 L114.81 291.24 L115.31 291.26 L115.80 291.27 L116.30 291.29 L116.79 291.31 L117.29 291.33 L117.78 291.34 L118.28 291.36 L118.77 291.38 L119.27 291.40 L119.76 291.42 L120.26 291.44 L120.75 291.45 L121.25 291.47 L121.74 291.49 L122.24 291.51 L122.73 291.53 L123.23 291.55 L123.72 291.57 L124.22 291.59 L124.71 291.61 L125.21 291.63 L125.70 291.65 L126.20 291.67 L126.69 291.69 L127.19 291.72 L127.68 291.74 L128.18 291.76 L128.67 291.78 L129.17 291.80 L129.66 291.82 L130.16 291.85 L130.65 291.87 L131.15 291.89 L131.64 291.91 L132.14 291.94 L132.63 291.96 L133.13 291.98 L133.62 292.01 L134.12 292.03 L134.61 292.06 L135.11 292.08 L135.60 292.10 L136.10 292.13 L136.59 292.15 L137.09 292.18 L137.58 292.20 L138.08 292.23 L138.57 292.25 L139.07 292.28 L139.56 292.31 L140.06 292.33 L140.55 292.36 L141.05 292.38 L141.54 292.41 L142.04 292.44 L142.53 292.46 L143.03 292.49 L143.52 292.52 L144.02 292.55 L144.51 292.57 L145.01 292.60 L145.50 292.63 L146.00 292.66 L146.49 292.69 L146.99 292.72 L147.48 292.74 L147.98 292.77 L148.47 292.80 L148.97 292.83 L149.47 292.86 L149.96 292.89 L150.46 292.92 L150.95 292.95 L151.45 292.98 L151.94 293.01 L152.44 293.05 L152.93 293.08 L153.43 293.11 L153.92 293.14 L154.42 293.17 L154.91 293.20 L155.41 293.24 L155.90 293.27 L156.40 293.30 L156.89 293.33 L157.39 293.37 L157.88 293.40 L158.38 293.43 L158.87 293.47 L159.37 293.50 L159.86 293.54 L160.36 293.57 L160.85 293.61 L161.35 293.64 L161.84 293.68 L162.34 293.71 L162.83 293.75 L163.33 293.78 L163.82 293.82 L164.32 293.85 L164.81 293.89 L165.31 293.93 L165.80 293.96 L166.30 294.00 L166.79 294.04 L167.29 294.08 L167.78 294.11 L168.28 294.15 L168.77 294.19 L169.27 294.23 L169.76 294.27 L170.26 294.31 L170.75 294.35 L171.25 294.39 L171.74 294.42 L172.24 294.46 L172.73 294.50 L173.23 294.55 L173.72 294.59 L174.22 294.63 L174.71 294.67 L175.21 294.71 L175.70 294.75 L176.20 294.79 L176.69 294.83 L177.19 294.88 L177.68 294.92 L178.18 294.96 L178.67 295.00 L179.17 295.05 L179.66 295.09 L180.16 295.13 L180.65 295.18 L181.15 295.22 L181.64 295.27 L182.14 295.31 L182.63 295.36 L183.13 295.40 L183.62 295.45 L184.12 295.49 L184.61 295.54 L185.11 295.58 L185.61 295.63 L186.10 295.68 L186.60 295.72 L187.09 295.77 L187.59 295.82 L188.08 295.87 L188.58 295.91 L189.07 295.96 L189.57 296.01 L190.06 296.06 L190.56 296.11 L191.05 296.16 L191.55 296.20 L192.04 296.25 L192.54 296.30 L193.03 296.35 L193.53 296.40 L194.02 296.46 L194.52 296.51 L195.01 296.56 L195.51 296.61 L196.00 296.66 L196.50 296.71 L196.99 296.76 L197.49 296.82 L197.98 296.87 L198.48 296.92 L198.97 296.98 L199.47 297.03 L199.96 297.08 L200.46 297.14 L200.95 297.19 L201.45 297.25 L201.94 297.30 L202.44 297.36 L202.93 297.42 L203.43 297.47 L203.92 297.53 L204.42 297.59 L204.91 297.64 L205.41 297.70 L205.90 297.76 L206.40 297.82 L206.89 297.88 L207.39 297.94 L207.88 298.00 L208.38 298.06 L208.87 298.12 L209.37 298.18 L209.86 298.24 L210.36 298.31 L210.85 298.37 L211.35 298.43 L211.84 298.50 L212.34 298.56 L212.83 298.63 L213.33 298.69 L213.82 298.76 L214.32 298.82 L214.81 298.89 L215.31 298.96 L215.80 299.03 L216.30 299.10 L216.79 299.17 L217.29 299.24 L217.78 299.31 L218.28 299.38 L218.77 299.45 L219.27 299.52 L219.76 299.59 L220.26 299.67 L220.75 299.74 L221.25 299.82 L221.75 299.89 L222.24 299.97 L222.74 300.04 L223.23 300.12 L223.73 300.20 L224.22 300.28 L224.72 300.36 L225.21 300.44 L225.71 300.52 L226.20 300.60 L226.70 300.68 L227.19 300.77 L227.69 300.85 L228.18 300.94 L228.68 301.02 L229.17 301.11 L229.67 301.19 L230.16 301.28 L230.66 301.37 L231.15 301.46 L231.65 301.55 L232.14 301.64 L232.64 301.73 L233.13 301.82 L233.63 301.92 L234.12 302.01 L234.62 302.11 L235.11 302.20 L235.61 302.30 L236.10 302.40 L236.60 302.49 L237.09 302.59 L237.59 302.69 L238.08 302.79 L238.58 302.90 L239.07 303.00 L239.57 303.10 L240.06 303.21 L240.56 303.31 L241.05 303.42 L241.55 303.53 L242.04 303.63 L242.54 303.74 L243.03 303.85 L243.53 303.97 L244.02 304.08 L244.52 304.19 L245.01 304.30 L245.51 304.42 L246.00 304.54 L246.50 304.65 L246.99 304.77 L247.49 304.89 L247.98 305.01 L248.48 305.13 L248.97 305.25 L249.47 305.38 L249.96 305.50 L250.46 305.63 L250.95 305.75 L251.45 305.88 L251.94 306.01 L252.44 306.14 L252.93 306.27 L253.43 306.40 L253.92 306.54 L254.42 306.67 L254.91 306.81 L255.41 306.94 L255.90 307.08 L256.40 307.22 L256.89 307.36 L257.39 307.50 L257.88 307.64 L258.38 307.79 L258.88 307.93 L259.37 308.08 L259.87 308.23 L260.36 308.38 L260.86 308.53 L261.35 308.68 L261.85 308.83 L262.34 308.98 L262.84 309.14 L263.33 309.29 L263.83 309.45 L264.32 309.61 L264.82 309.77 L265.31 309.93 L265.81 310.09 L266.30 310.26 L266.80 310.42 L267.29 310.59 L267.79 310.75 L268.28 310.92 L268.78 311.09 L269.27 311.27 L269.77 311.44 L270.26 311.61 L270.76 311.79 L271.25 311.97 L271.75 312.14 L272.24 312.32 L272.74 312.51 L273.23 312.69 L273.73 312.87 L274.22 313.06 L274.72 313.25 L275.21 313.43 L275.71 313.62 L276.20 313.82 L276.70 314.01 L277.19 314.20 L277.69 314.40 L278.18 314.60 L278.68 314.79 L279.17 314.99 L279.67 315.20 L280.16 315.40 L280.66 315.60 L281.15 315.81 L281.65 316.02 L282.14 316.23 L282.64 316.44 L283.13 316.65 L283.63 316.87 L284.12 317.08 L284.62 317.30 L285.11 317.52 L285.61 317.74 L286.10 317.96 L286.60 318.18 L287.09 318.41 L287.59 318.63 L288.08 318.86 L288.58 319.09 L289.07 319.32 L289.57 319.56 L290.06 319.79 L290.56 320.03 L291.05 320.27 L291.55 320.51 L292.04 320.75 L292.54 320.99 L293.03 321.24 L293.53 321.49 L294.02 321.73 L294.52 321.98 L295.02 322.24 L295.51 322.49 L296.01 322.75 L296.50 323.00 L297.00 323.26 L297.49 323.52 L297.99 323.79 L298.48 324.05 L298.98 324.32 L299.47 324.58 L299.97 324.85 L300.46 325.13 L300.96 325.40 L301.45 325.67 L301.95 325.95 L302.44 326.23 L302.94 326.51 L303.43 326.79 L303.93 327.08 L304.42 327.36 L304.92 327.65 L305.41 327.94 L305.91 328.23 L306.40 328.53 L306.90 328.82 L307.39 329.12 L307.89 329.42 L308.38 329.72 L308.88 330.03 L309.37 330.33 L309.87 330.64 L310.36 330.95 L310.86 331.26 L311.35 331.57 L311.85 331.89 L312.34 332.21 L312.84 332.53 L313.33 332.85 L313.83 333.17 L314.32 333.50 L314.82 333.82 L315.31 334.15 L315.81 334.48 L316.30 334.82 L316.80 335.15 L317.29 335.49 L317.79 335.83 L318.28 336.17 L318.78 336.51 L319.27 336.86 L319.77 337.21 L320.26 337.56 L320.76 337.91 L321.25 338.26 L321.75 338.62 L322.24 338.98 L322.74 339.34 L323.23 339.70 L323.73 340.07 L324.22 340.43 L324.72 340.80 L325.21 341.18 L325.71 341.55 L326.20 341.92 L326.70 342.30 L327.19 342.68 L327.69 343.06 L328.18 343.45 L328.68 343.84 L329.17 344.22 L329.67 344.61 L330.16 345.01 L330.66 345.40 L331.16 345.80 L331.65 346.20 L332.15 346.60 L332.64 347.01 L333.14 347.41 L333.63 347.82 L334.13 348.23 L334.62 348.65 L335.12 349.06 L335.61 349.48 L336.11 349.90 L336.60 350.32 L337.10 350.75 L337.59 351.18 L338.09 351.61 L338.58 352.04 L339.08 352.47 L339.57 352.91 L340.07 353.35 L340.56 353.79 L341.06 354.23 L341.55 354.68 L342.05 355.13 L342.54 355.58 L343.04 356.03 L343.53 356.49 L344.03 356.94 L344.52 357.40 L345.02 357.87 L345.51 358.33 L346.01 358.80 L346.50 359.27 L347.00 359.74 L347.49 360.22 L347.99 360.69 L348.48 361.17 L348.98 361.65 L349.47 362.14 L349.97 362.63 L350.46 363.12 L350.96 363.61 L351.45 364.10 L351.95 364.60 L352.44 365.10 L352.94 365.60 L353.43 366.10 L353.93 366.61 L354.42 367.12 L354.92 367.63 L355.41 368.15 L355.91 368.66 L356.40 369.18 L356.90 369.71 L357.39 370.23 L357.89 370.76 L358.38 371.29 L358.88 371.82 L359.37 372.36 L359.87 372.89 L360.36 373.43 L360.86 373.98 L361.35 374.52 L361.85 375.07 L362.34 375.62 L362.84 376.17 L363.33 376.73 L363.83 377.29 L364.32 377.85 L364.82 378.41 L365.31 378.98 L365.81 379.55 L366.30 380.12 L366.80 380.70 L367.29 381.27 L367.79 381.85 L368.29 382.43 L368.78 383.02 L369.28 383.61 L369.77 384.20 L370.27 384.79 L370.76 385.39 L371.26 385.99 L371.75 386.59 L372.25 387.19 L372.74 387.80 L373.24 388.41 L373.73 389.02 L374.23 389.64 L374.72 390.26 L375.22 390.88 L375.71 391.50 L376.21 392.13 L376.70 392.76 L377.20 393.39 L377.69 394.02 L378.19 394.66 L378.68 395.30 L379.18 395.94 L379.67 396.58 L380.17 397.23 L380.66 397.88 L381.16 398.53 L381.65 399.18 L382.15 399.84 L382.64 400.49 L383.14 401.15 L383.63 401.81 L384.13 402.48 L384.62 403.14 L385.12 403.81 L385.61 404.48 L386.11 405.15 L386.60 405.82 L387.10 406.49 L387.59 407.17 L388.09 407.84 L388.58 408.52 L389.08 409.20 L389.57 409.88 L390.07 410.56 L390.56 411.25 L391.06 411.93 L391.55 412.62 L392.05 413.30 L392.54 413.99 L393.04 414.68 L393.53 415.37 L394.03 416.06 L394.52 416.75 L395.02 417.44 L395.51 418.13 L396.01 418.83 L396.50 419.52 L397.00 420.22 L397.49 420.91 L397.99 421.61 L398.48 422.30 L398.98 423.00 L399.47 423.70 L399.97 424.39 L400.46 425.09 L400.96 425.79 L401.45 426.49 L401.95 427.18 L402.44 427.88 L402.94 428.58 L403.43 429.28 L403.93 429.97 L404.43 430.67 L404.92 431.37 L405.42 432.06 L405.91 432.76 L406.41 433.45 L406.90 434.14 L407.40 434.83 L407.89 435.53 L408.39 436.22 L408.88 436.91 L409.38 437.59 L409.87 438.28 L410.37 438.96 L410.86 439.65 L411.36 440.33 L411.85 441.01 L412.35 441.69 L412.84 442.37 L413.34 443.04 L413.83 443.71 L414.33 444.38 L414.82 445.05 L415.32 445.72 L415.81 446.38 L416.31 447.04 L416.80 447.70 L417.30 448.36 L417.79 449.01 L418.29 449.66 L418.78 450.31 L419.28 450.96 L419.77 451.60 L420.27 452.24 L420.76 452.87 L421.26 453.51 L421.75 454.13 L422.25 454.76 L422.74 455.38 L423.24 456.00 L423.73 456.62 L424.23 457.23 L424.72 457.83 L425.22 458.44 L425.71 459.04 L426.21 459.63 L426.70 460.22 L427.20 460.81 L427.69 461.39 L428.19 461.97 L428.68 462.54 L429.18 463.11 L429.67 463.67 L430.17 464.23 L430.66 464.79 L431.16 465.34 L431.65 465.88 L432.15 466.42 L432.64 466.95 L433.14 467.48 L433.63 468.00 L434.13 468.52 L434.62 469.03 L435.12 469.54 L435.61 470.04 L436.11 470.53 L436.60 471.02 L437.10 471.51 L437.59 471.98 L438.09 472.45 L438.58 472.92 L439.08 473.37 L439.57 473.83 L440.07 474.27 L440.57 474.71 L441.06 475.14 L441.56 475.57 L442.05 475.98 L442.55 476.39 L443.04 476.80 L443.54 477.19 L444.03 477.58 L444.53 477.96 L445.02 478.33 L445.52 478.69 L446.01 479.05 L446.51 479.39 L447.00 479.73 L447.50 480.06 L447.99 480.38 L448.49 480.68 L448.98 480.98 L449.48 481.27 L449.97 481.55 L450.47 481.82 L450.96 482.08 L451.46 482.32 L451.95 482.56 L452.45 482.78 L452.94 483.00 L453.44 483.20 L453.93 483.39 L454.43 483.57 L454.92 483.73 L455.42 483.89 L455.91 484.03 L456.41 484.15 L456.90 484.27 L457.40 484.37 L457.89 484.46 L458.39 484.54 L458.88 484.60 L459.38 484.65 L459.87 484.68 L460.37 484.70 L460.86 484.71 L461.36 484.70 L461.85 484.68 L462.35 484.64 L462.84 484.58 L463.34 484.51 L463.83 484.43 L464.33 484.33 L464.82 484.21 L465.32 484.08 L465.81 483.93 L466.31 483.76 L466.80 483.58 L467.30 483.38 L467.79 483.16 L468.29 482.93 L468.78 482.68 L469.28 482.41 L469.77 482.13 L470.27 481.83 L470.76 481.51 L471.26 481.17 L471.75 480.82 L472.25 480.45 L472.74 480.06 L473.24 479.66 L473.73 479.24 L474.23 478.80 L474.72 478.34 L475.22 477.86 L475.71 477.37 L476.21 476.86 L476.71 476.33 L477.20 475.79 L477.70 475.22 L478.19 474.64 L478.69 474.04 L479.18 473.42 L479.68 472.78 L480.17 472.13 L480.67 471.45 L481.16 470.76 L481.66 470.05 L482.15 469.33 L482.65 468.58 L483.14 467.81 L483.64 467.03 L484.13 466.23 L484.63 465.40 L485.12 464.56 L485.62 463.71 L486.11 462.83 L486.61 461.93 L487.10 461.01 L487.60 460.08 L488.09 459.13 L488.59 458.15 L489.08 457.16 L489.58 456.15 L490.07 455.12 L490.57 454.07 L491.06 453.00 L491.56 451.91 L492.05 450.80 L492.55 449.67 L493.04 448.52 L493.54 447.35 L494.03 446.16 L494.53 444.96 L495.02 443.73 L495.52 442.48 L496.01 441.22 L496.51 439.93 L497.00 438.63 L497.50 437.30 L497.99 435.96 L498.49 434.60 L498.98 433.22 L499.48 431.81 L499.97 430.39 L500.47 428.95 L500.96 427.49 L501.46 426.01 L501.95 424.51 L502.45 423.00 L502.94 421.46 L503.44 419.90 L503.93 418.33 L504.43 416.73 L504.92 415.12 L505.42 413.48 L505.91 411.83 L506.41 410.15 L506.90 408.46 L507.40 406.75 L507.89 405.02 L508.39 403.27 L508.88 401.50 L509.38 399.71 L509.87 397.91 L510.37 396.08 L510.86 394.23 L511.36 392.37 L511.85 390.49 L512.35 388.58 L512.84 386.66 L513.34 384.72 L513.84 382.76 L514.33 380.78 L514.83 378.78 L515.32 376.76 L515.82 374.73 L516.31 372.67 L516.81 370.60 L517.30 368.51 L517.80 366.40 L518.29 364.28 L518.79 362.14 L519.28 359.99 L519.78 357.82 L520.27 355.63 L520.77 353.43 L521.26 351.21 L521.76 348.99 L522.25 346.74 L522.75 344.49 L523.24 342.22 L523.74 339.94 L524.23 337.65 L524.73 335.34 L525.22 333.03 L525.72 330.70 L526.21 328.36 L526.71 326.02 L527.20 323.66 L527.70 321.30 L528.19 318.92 L528.69 316.54 L529.18 314.15 L529.68 311.75 L530.17 309.34 L530.67 306.93 L531.16 304.51 L531.66 302.08 L532.15 299.65 L532.65 297.21 L533.14 294.77 L533.64 292.32 L534.13 289.87 L534.63 287.42 L535.12 284.96 L535.62 282.49 L536.11 280.03 L536.61 277.56 L537.10 275.09 L537.60 272.62 L538.09 270.15 L538.59 267.68 L539.08 265.20 L539.58 262.73 L540.07 260.26 L540.57 257.78 L541.06 255.31 L541.56 252.84 L542.05 250.37 L542.55 247.90 L543.04 245.44 L543.54 242.98 L544.03 240.52 L544.53 238.07 L545.02 235.62 L545.52 233.17 L546.01 230.73 L546.51 228.30 L547.00 225.87 L547.50 223.44 L547.99 221.02 L548.49 218.61 L548.98 216.21 L549.48 213.81 L549.98 211.43 L550.47 209.05 L550.97 206.67 L551.46 204.31 L551.96 201.96 L552.45 199.62 L552.95 197.28 L553.44 194.96 L553.94 192.65 L554.43 190.35 L554.93 188.06 L555.42 185.78 L555.92 183.52 L556.41 181.27 L556.91 179.03 L557.40 176.81 L557.90 174.59 L558.39 172.40 L558.89 170.22 L559.38 168.05 L559.88 165.90 L560.37 163.77 L560.87 161.65 L561.36 159.54 L561.86 157.46 L562.35 155.39 L562.85 153.34 L563.34 151.31 L563.84 149.30 L564.33 147.30 L564.83 145.33 L565.32 143.37 L565.82 141.44 L566.31 139.52 L566.81 137.63 L567.30 135.76 L567.80 133.91 L568.29 132.08 L568.79 130.27 L569.28 128.49 L569.78 126.73 L570.27 124.99 L570.77 123.27 L571.26 121.58 L571.76 119.92 L572.25 118.28 L572.75 116.66 L573.24 115.07 L573.74 113.51 L574.23 111.97 L574.73 110.46 L575.22 108.97 L575.72 107.51 L576.21 106.08 L576.71 104.68 L577.20 103.30 L577.70 101.95 L578.19 100.63 L578.69 99.34 L579.18 98.08 L579.68 96.85 L580.17 95.65 L580.67 94.48 L581.16 93.34 L581.66 92.23 L582.15 91.15 L582.65 90.10 L583.14 89.09 L583.64 88.10 L584.13 87.15 L584.63 86.23 L585.12 85.35 L585.62 84.50 L586.12 83.68 L586.61 82.89 L587.11 82.14 L587.60 81.43 L588.10 80.75 L588.59 80.11 L589.09 79.50 L589.58 78.92 L590.08 78.38 L590.57 77.87 L591.07 77.39 L591.56 76.95 L592.06 76.54 L592.55 76.17 L593.05 75.82 L593.54 75.51 L594.04 75.23 L594.53 74.98 L595.03 74.76 L595.52 74.58 L596.02 74.42 L596.51 74.29 L597.01 74.20 L597.50 74.13 L598.00 74.09 L598.49 74.08 L598.99 74.10 L599.48 74.15 L599.98 74.23 L600.47 74.34 L600.97 74.47 L601.46 74.63 L601.96 74.81 L602.45 75.03 L602.95 75.27 L603.44 75.53 L603.94 75.83 L604.43 76.14 L604.93 76.48 L605.42 76.85 L605.92 77.24 L606.41 77.66 L606.91 78.10 L607.40 78.57 L607.90 79.05 L608.39 79.57 L608.89 80.10 L609.38 80.66 L609.88 81.24 L610.37 81.84 L610.87 82.46 L611.36 83.11 L611.86 83.78 L612.35 84.47 L612.85 85.18 L613.34 85.91 L613.84 86.66 L614.33 87.43 L614.83 88.22 L615.32 89.03 L615.82 89.86 L616.31 90.71 L616.81 91.58 L617.30 92.47 L617.80 93.37 L618.29 94.30 L618.79 95.23 L619.28 96.19 L619.78 97.16 L620.27 98.15 L620.77 99.16 L621.26 100.18 L621.76 101.21 L622.25 102.26 L622.75 103.32 L623.25 104.39 L623.74 105.48 L624.24 106.58 L624.73 107.69 L625.23 108.81 L625.72 109.95 L626.22 111.09 L626.71 112.25 L627.21 113.41 L627.70 114.59 L628.20 115.77 L628.69 116.97 L629.19 118.17 L629.68 119.38 L630.18 120.60 L630.67 121.83 L631.17 123.07 L631.66 124.31 L632.16 125.56 L632.65 126.82 L633.15 128.08 L633.64 129.36 L634.14 130.63 L634.63 131.92 L635.13 133.20 L635.62 134.50 L636.12 135.80 L636.61 137.10 L637.11 138.41 L637.60 139.72 L638.10 141.04 L638.59 142.36 L639.09 143.68 L639.58 145.01 L640.08 146.33 L640.57 147.67 L641.07 149.00 L641.56 150.33 L642.06 151.67 L642.55 153.01 L643.05 154.35 L643.54 155.68 L644.04 157.02 L644.53 158.36 L645.03 159.70 L645.52 161.04 L646.02 162.38 L646.51 163.72 L647.01 165.05 L647.50 166.39 L648.00 167.72 L648.49 169.05 L648.99 170.37 L649.48 171.70 L649.98 173.02 L650.47 174.34 L650.97 175.65 L651.46 176.96 L651.96 178.27 L652.45 179.57 L652.95 180.87 L653.44 182.16 L653.94 183.44 L654.43 184.72 L654.93 186.00 L655.42 187.27 L655.92 188.53 L656.41 189.78 L656.91 191.03 L657.40 192.27 L657.90 193.50 L658.39 194.73 L658.89 195.94 L659.39 197.15 L659.88 198.35 L660.38 199.54 L660.87 200.72 L661.37 201.89 L661.86 203.05 L662.36 204.20 L662.85 205.34 L663.35 206.47 L663.84 207.58 L664.34 208.69 L664.83 209.79 L665.33 210.87 L665.82 211.95 L666.32 213.01 L666.81 214.06 L667.31 215.11 L667.80 216.14 L668.30 217.16 L668.79 218.18 L669.29 219.18 L669.78 220.17 L670.28 221.15 L670.77 222.12 L671.27 223.09 L671.76 224.04 L672.26 224.98 L672.75 225.91 L673.25 226.84 L673.74 227.75 L674.24 228.65 L674.73 229.54 L675.23 230.43 L675.72 231.30 L676.22 232.17 L676.71 233.02 L677.21 233.87 L677.70 234.71 L678.20 235.54 L678.69 236.35 L679.19 237.16 L679.68 237.96 L680.18 238.76 L680.67 239.54 L681.17 240.31 L681.66 241.08 L682.16 241.83 L682.65 242.58 L683.15 243.32 L683.64 244.05 L684.14 244.77 L684.63 245.48 L685.13 246.19 L685.62 246.88 L686.12 247.57 L686.61 248.25 L687.11 248.92 L687.60 249.59 L688.10 250.24 L688.59 250.89 L689.09 251.53 L689.58 252.16 L690.08 252.78 L690.57 253.39 L691.07 254.00 L691.56 254.60 L692.06 255.19 L692.55 255.78 L693.05 256.35 L693.54 256.92 L694.04 257.48 L694.53 258.04 L695.03 258.59 L695.53 259.13 L696.02 259.66 L696.52 260.18 L697.01 260.70 L697.51 261.21 L698.00 261.72 L698.50 262.21 L698.99 262.70 L699.49 263.18 L699.98 263.66 L700.48 264.13 L700.97 264.59 L701.47 265.05 L701.96 265.50 L702.46 265.94 L702.95 266.38 L703.45 266.81 L703.94 267.23 L704.44 267.65 L704.93 268.06 L705.43 268.47 L705.92 268.86 L706.42 269.26 L706.91 269.64 L707.41 270.02 L707.90 270.40 L708.40 270.77 L708.89 271.13 L709.39 271.49 L709.88 271.84 L710.38 272.18 L710.87 272.52 L711.37 272.86 L711.86 273.19 L712.36 273.51 L712.85 273.83 L713.35 274.14 L713.84 274.45 L714.34 274.75 L714.83 275.05 L715.33 275.34 L715.82 275.63 L716.32 275.91 L716.81 276.19 L717.31 276.46 L717.80 276.73 L718.30 276.99 L718.79 277.25 L719.29 277.50 L719.78 277.75 L720.28 277.99 L720.77 278.23 L721.27 278.47 L721.76 278.70 L722.26 278.92 L722.75 279.14 L723.25 279.36 L723.74 279.58 L724.24 279.79 L724.73 279.99 L725.23 280.19 L725.72 280.39 L726.22 280.58 L726.71 280.77 L727.21 280.96 L727.70 281.14 L728.20 281.32 L728.69 281.49 L729.19 281.66 L729.68 281.83 L730.18 281.99 L730.67 282.15 L731.17 282.31 L731.66 282.46 L732.16 282.62 L732.66 282.76 L733.15 282.91 L733.65 283.05 L734.14 283.19 L734.64 283.32 L735.13 283.45 L735.63 283.58 L736.12 283.71 L736.62 283.83 L737.11 283.95 L737.61 284.07 L738.10 284.19 L738.60 284.30 L739.09 284.41 L739.59 284.52 L740.08 284.63 L740.58 284.73 L741.07 284.83 L741.57 284.93 L742.06 285.03 L742.56 285.12 L743.05 285.21 L743.55 285.30 L744.04 285.39 L744.54 285.48 L745.03 285.56 L745.53 285.65 L746.02 285.73 L746.52 285.81 L747.01 285.89 L747.51 285.96 L748.00 286.04 L748.50 286.11 L748.99 286.18 L749.49 286.26 L749.98 286.33 L750.48 286.39 L750.97 286.46 L751.47 286.53 L751.96 286.59 L752.46 286.66 L752.95 286.72 L753.45 286.78 L753.94 286.84 L754.44 286.90 L754.93 286.96 L755.43 287.02 L755.92 287.08 L756.42 287.14 L756.91 287.20 L757.41 287.25 L757.90 287.31 L758.40 287.36 L758.89 287.42 L759.39 287.48 L759.88 287.53 L760.38 287.59 L760.87 287.64 L761.37 287.70 L761.86 287.75 L762.36 287.81 L762.85 287.86 L763.35 287.92 L763.84 287.97 L764.34 288.03 L764.83 288.09 L765.33 288.14 L765.82 288.20 L766.32 288.26 L766.81 288.32 L767.31 288.37 L767.80 288.43 L768.30 288.49" stroke="#000"/>
</g>
<path d="M71.40 290.36 h8.60 M75.70 286.06 v8.60 M72.66 287.32 l6.08 6.08 M72.66 293.40 l6.08 -6.08 M95.28 290.79 h8.60 M99.58 286.49 v8.60 M96.54 287.75 l6.08 6.08 M96.54 293.83 l6.08 -6.08 M119.17 291.56 h8.60 M123.47 287.26 v8.60 M120.42 288.52 l6.08 6.08 M120.42 294.60 l6.08 -6.08 M143.05 292.74 h8.60 M147.35 288.44 v8.60 M144.31 289.70 l6.08 6.08 M144.31 295.78 l6.08 -6.08 M166.93 294.38 h8.60 M171.23 290.08 v8.60 M168.19 291.34 l6.08 6.08 M168.19 297.42 l6.08 -6.08 M190.81 296.57 h8.60 M195.11 292.27 v8.60 M192.07 293.53 l6.08 6.08 M192.07 299.61 l6.08 -6.08 M214.70 299.48 h8.60 M219.00 295.18 v8.60 M215.96 296.44 l6.08 6.08 M215.96 302.52 l6.08 -6.08 M238.58 303.82 h8.60 M242.88 299.52 v8.60 M239.84 300.78 l6.08 6.08 M239.84 306.86 l6.08 -6.08 M262.46 310.41 h8.60 M266.76 306.11 v8.60 M263.72 307.37 l6.08 6.08 M263.72 313.45 l6.08 -6.08 M286.34 320.07 h8.60 M290.64 315.77 v8.60 M287.60 317.03 l6.08 6.08 M287.60 323.11 l6.08 -6.08 M310.23 333.63 h8.60 M314.53 329.33 v8.60 M311.49 330.59 l6.08 6.08 M311.49 336.67 l6.08 -6.08 M334.11 351.89 h8.60 M338.41 347.59 v8.60 M335.37 348.85 l6.08 6.08 M335.37 354.93 l6.08 -6.08 M357.99 375.56 h8.60 M362.29 371.26 v8.60 M359.25 372.52 l6.08 6.08 M359.25 378.60 l6.08 -6.08 M381.88 405.24 h8.60 M386.18 400.94 v8.60 M383.14 402.20 l6.08 6.08 M383.14 408.28 l6.08 -6.08 M405.76 438.54 h8.60 M410.06 434.24 v8.60 M407.02 435.50 l6.08 6.08 M407.02 441.58 l6.08 -6.08 M429.64 468.32 h8.60 M433.94 464.02 v8.60 M430.90 465.28 l6.08 6.08 M430.90 471.36 l6.08 -6.08 M453.52 484.45 h8.60 M457.82 480.15 v8.60 M454.78 481.41 l6.08 6.08 M454.78 487.49 l6.08 -6.08 M477.41 469.98 h8.60 M481.71 465.68 v8.60 M478.67 466.94 l6.08 6.08 M478.67 473.02 l6.08 -6.08 M501.29 412.91 h8.60 M505.59 408.61 v8.60 M502.55 409.87 l6.08 6.08 M502.55 415.95 l6.08 -6.08 M525.17 312.74 h8.60 M529.47 308.44 v8.60 M526.43 309.70 l6.08 6.08 M526.43 315.78 l6.08 -6.08 M549.06 195.36 h8.60 M553.36 191.06 v8.60 M550.31 192.32 l6.08 6.08 M550.31 198.40 l6.08 -6.08 M572.94 103.21 h8.60 M577.24 98.91 v8.60 M574.20 100.17 l6.08 6.08 M574.20 106.25 l6.08 -6.08 M596.82 74.52 h8.60 M601.12 70.22 v8.60 M598.08 71.48 l6.08 6.08 M598.08 77.56 l6.08 -6.08 M620.70 108.31 h8.60 M625.00 104.01 v8.60 M621.96 105.27 l6.08 6.08 M621.96 111.35 l6.08 -6.08 M644.59 170.10 h8.60 M648.89 165.80 v8.60 M645.85 167.06 l6.08 6.08 M645.85 173.14 l6.08 -6.08 M668.47 225.94 h8.60 M672.77 221.64 v8.60 M669.73 222.90 l6.08 6.08 M669.73 228.99 l6.08 -6.08 M692.35 260.33 h8.60 M696.65 256.03 v8.60 M693.61 257.28 l6.08 6.08 M693.61 263.37 l6.08 -6.08 M716.23 278.12 h8.60 M720.53 273.82 v8.60 M717.49 275.08 l6.08 6.08 M717.49 281.16 l6.08 -6.08 M740.12 285.46 h8.60 M744.42 281.16 v8.60 M741.38 282.42 l6.08 6.08 M741.38 288.50 l6.08 -6.08 M764.00 288.49 h8.60 M768.30 284.19 v8.60 M765.26 285.45 l6.08 6.08 M765.26 291.54 l6.08 -6.08 M162.10 215.00 h8.60 M166.40 210.70 v8.60 M163.36 211.96 l6.08 6.08 M163.36 218.04 l6.08 -6.08" stroke="#0000ff" stroke-width="1.2" fill="none"/>
<g fill="none" stroke-width="2.00">
<path d="M131.6 86.8 H201.1" stroke="#000" stroke-dasharray="1.5620,4.6860,7.8100,4.6860,1.5620,4.6860" stroke-dashoffset="0.00"/>
<path d="M131.7 109.2 H201.1" stroke="#0000ff" stroke-dasharray="7.7920,4.6752"/>
<path d="M132.0 134.0 H201.1" stroke="#ff0000" stroke-dasharray="1.5620,4.6860,10.9340,4.6860"/>
<path d="M131.7 160.4 H201.1" stroke="#000" stroke-dasharray="1.5735,4.7205"/>
<path d="M131.7 188.0 H201.1" stroke="#000"/>
</g>
<g font-family="'Liberation Serif', serif" font-size="22.3" fill="#000" stroke="#000" stroke-width="0.25">
<text transform="translate(69.5 17.80) scale(1.03 1.04)" text-anchor="end" font-size="22.3">0.3</text>
<text transform="translate(69.5 110.99) scale(1.03 1.04)" text-anchor="end" font-size="22.3">0.2</text>
<text transform="translate(69.5 204.18) scale(1.03 1.04)" text-anchor="end" font-size="22.3">0.1</text>
<text transform="translate(69.5 297.38) scale(1.03 1.04)" text-anchor="end" font-size="22.3">0</text>
<text transform="translate(69.5 390.57) scale(1.03 1.04)" text-anchor="end" font-size="22.3">-0.1</text>
<text transform="translate(69.5 483.76) scale(1.03 1.04)" text-anchor="end" font-size="22.3">-0.2</text>
<text transform="translate(75.90 516.85) scale(1.03 1.04)" text-anchor="middle" font-size="22.3">0.1</text>
<text transform="translate(355.80 516.85) scale(1.03 1.04)" text-anchor="middle" font-size="22.3">1</text>
<text transform="translate(635.40 516.85) scale(1.03 1.04)" text-anchor="middle" font-size="22.3">10</text>
<text transform="translate(719.27 516.85) scale(1.03 1.04)" text-anchor="middle" font-size="22.3">20</text>
<text transform="translate(768.50 516.85) scale(1.03 1.04)" text-anchor="middle" font-size="22.3">30</text>
<text x="214.9" y="95.1">thermal SZ</text>
<text x="214.9" y="116.4">kinematic SZ</text>
<text x="214.9" y="138.8">quadratic kSZ (quadrupole) x 100</text>
<text x="214.9" y="166.0">quadratic kSZ (monopole) x 1000</text>
<text x="214.9" y="193.2">total SZ signal</text>
<text x="214.9" y="220.1">SZpack 5D-integral</text>
<text x="124.4" y="51.7">SZ signals for</text>
<text transform="matrix(1.2821 0 0 1.1072 254.295 51.779)" font-size="20.0" stroke-width="0.20">θ</text>
<text x="266.5" y="60.5" font-size="15.83">e</text>
<path d="M279.80 43.83 H290.90 M279.80 48.29 H290.90" stroke="#000" stroke-width="1.47" fill="none"/>
<text x="297.5" y="51.7">0.05,</text>
<text transform="matrix(1.3768 0 0 1.1738 345.870 51.276)" font-size="20.0" stroke-width="0.00">μ</text>
<text x="360.0" y="60.5" font-size="15.83">c</text>
<path d="M373.80 43.83 H384.90 M373.80 48.29 H384.90" stroke="#000" stroke-width="1.47" fill="none"/>
<text x="391.4" y="51.7">-1 and</text>
<text transform="matrix(1.2562 0 0 1.1614 453.292 51.552)" font-size="20.0" stroke-width="0.20">β</text>
<text x="464.9" y="60.5" font-size="15.83">c</text>
<path d="M478.20 43.83 H489.30 M478.20 48.29 H489.30" stroke="#000" stroke-width="1.47" fill="none"/>
<text x="496.3" y="51.7">0.01</text>
<g font-size="21.3">
<text x="370.5" y="538.5" font-style="italic">x</text>
<path d="M386.50 530.98 H397.60 M386.50 535.24 H397.60" stroke="#000" stroke-width="1.41" fill="none"/>
<text x="404.0" y="538.5" font-style="italic">h</text>
<text transform="matrix(1.1944 0 0 1.1620 415.652 538.568)" font-size="20.0" stroke-width="0.00">ν</text>
<text x="432.9" y="538.5">/</text>
<text x="444.0" y="538.5" font-style="italic">kT</text>
<text transform="matrix(0.8690 0 0 0.7961 466.917 547.608)" font-size="20.0" stroke-width="0.00">γ</text>
</g>
<g transform="translate(26.7 296.4) rotate(-90)" font-size="21.3">
<text x="0" y="0" font-style="italic">x</text>
<text x="9.7" y="-13.3" font-size="15.12">3</text>
<text transform="matrix(1.1287 0 0 1.1136 23.542 0.000)" font-size="20.0" stroke-width="0.25">Δ</text>
<text x="37.5" y="0" font-style="italic">n</text>
<text x="54.9" y="0" font-style="italic">/</text>
<text transform="matrix(1.1287 0 0 1.1136 65.942 0.000)" font-size="20.0" stroke-width="0.25">Δ</text>
<text transform="matrix(1.1592 0 0 1.2047 79.690 0.059)" font-size="20.0" stroke-width="0.15">τ</text>
</g>
</g>
</svg>
</body></html>
